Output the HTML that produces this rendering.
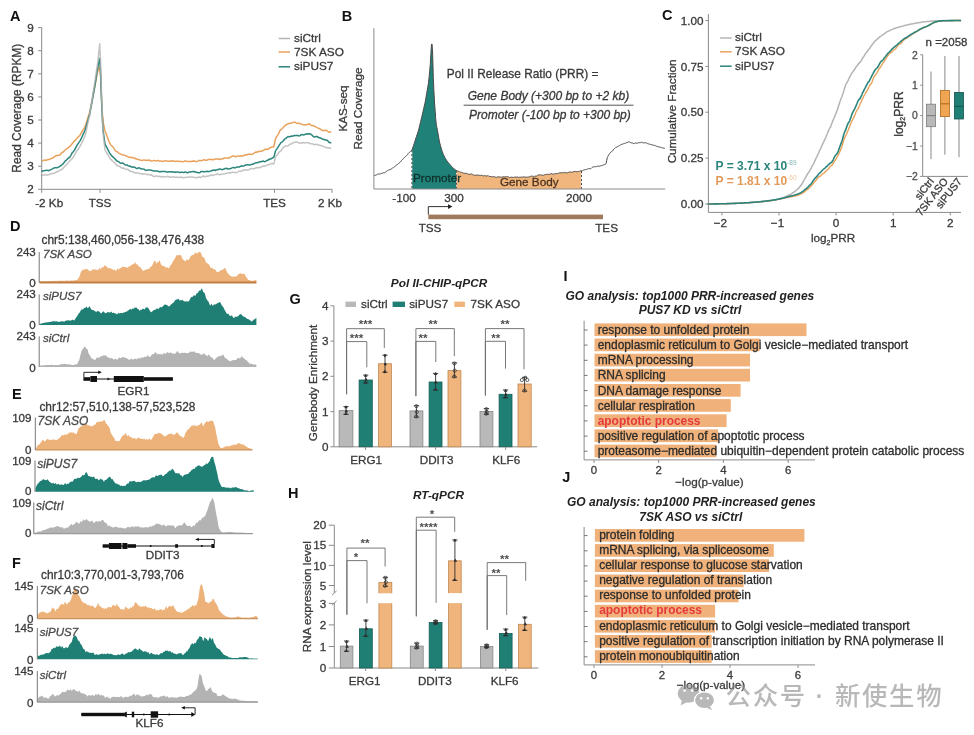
<!DOCTYPE html>
<html lang="en">
<head>
<meta charset="utf-8">
<title>Figure</title>
<style>
html,body{margin:0;padding:0;background:#fff;}
body{width:974px;height:735px;overflow:hidden;}
svg{display:block;filter:blur(0.45px);font-family:"Liberation Sans","Noto Sans CJK SC",sans-serif;}
</style>
</head>
<body>
<svg width="974" height="735" viewBox="0 0 974 735">
<rect x="0" y="0" width="974" height="735" fill="#ffffff"/>
<g id="panelA">
<text x="10" y="20.6" font-size="14.5" font-weight="bold" fill="#111">A</text>
<line x1="41.7" y1="27.6" x2="41.7" y2="189.3" stroke="#8a8a8a" stroke-width="1"/>
<line x1="41.7" y1="189.3" x2="332" y2="189.3" stroke="#8a8a8a" stroke-width="1"/>
<line x1="38.2" y1="189.3" x2="41.7" y2="189.3" stroke="#8a8a8a" stroke-width="1"/>
<text x="33.7" y="193.4" font-size="11.7" text-anchor="end" fill="#3a3a3a" stroke="#3a3a3a" stroke-width="0.3">2</text>
<line x1="38.2" y1="166.2" x2="41.7" y2="166.2" stroke="#8a8a8a" stroke-width="1"/>
<text x="33.7" y="170.3" font-size="11.7" text-anchor="end" fill="#3a3a3a" stroke="#3a3a3a" stroke-width="0.3">3</text>
<line x1="38.2" y1="143.1" x2="41.7" y2="143.1" stroke="#8a8a8a" stroke-width="1"/>
<text x="33.7" y="147.2" font-size="11.7" text-anchor="end" fill="#3a3a3a" stroke="#3a3a3a" stroke-width="0.3">4</text>
<line x1="38.2" y1="120" x2="41.7" y2="120" stroke="#8a8a8a" stroke-width="1"/>
<text x="33.7" y="124.1" font-size="11.7" text-anchor="end" fill="#3a3a3a" stroke="#3a3a3a" stroke-width="0.3">5</text>
<line x1="38.2" y1="96.9" x2="41.7" y2="96.9" stroke="#8a8a8a" stroke-width="1"/>
<text x="33.7" y="101" font-size="11.7" text-anchor="end" fill="#3a3a3a" stroke="#3a3a3a" stroke-width="0.3">6</text>
<line x1="38.2" y1="73.8" x2="41.7" y2="73.8" stroke="#8a8a8a" stroke-width="1"/>
<text x="33.7" y="77.9" font-size="11.7" text-anchor="end" fill="#3a3a3a" stroke="#3a3a3a" stroke-width="0.3">7</text>
<line x1="38.2" y1="50.7" x2="41.7" y2="50.7" stroke="#8a8a8a" stroke-width="1"/>
<text x="33.7" y="54.8" font-size="11.7" text-anchor="end" fill="#3a3a3a" stroke="#3a3a3a" stroke-width="0.3">8</text>
<line x1="38.2" y1="27.6" x2="41.7" y2="27.6" stroke="#8a8a8a" stroke-width="1"/>
<text x="33.7" y="31.7" font-size="11.7" text-anchor="end" fill="#3a3a3a" stroke="#3a3a3a" stroke-width="0.3">9</text>
<line x1="41.7" y1="189.3" x2="41.7" y2="192.8" stroke="#8a8a8a" stroke-width="1"/>
<text x="49.2" y="207.3" font-size="11.7" text-anchor="middle" fill="#3a3a3a" stroke="#3a3a3a" stroke-width="0.3">-2 Kb</text>
<line x1="100" y1="189.3" x2="100" y2="192.8" stroke="#8a8a8a" stroke-width="1"/>
<text x="100" y="207.3" font-size="11.7" text-anchor="middle" fill="#3a3a3a" stroke="#3a3a3a" stroke-width="0.3">TSS</text>
<line x1="274.5" y1="189.3" x2="274.5" y2="192.8" stroke="#8a8a8a" stroke-width="1"/>
<text x="274.5" y="207.3" font-size="11.7" text-anchor="middle" fill="#3a3a3a" stroke="#3a3a3a" stroke-width="0.3">TES</text>
<line x1="332" y1="189.3" x2="332" y2="192.8" stroke="#8a8a8a" stroke-width="1"/>
<text x="330" y="207.3" font-size="11.7" text-anchor="middle" fill="#3a3a3a" stroke="#3a3a3a" stroke-width="0.3">2 Kb</text>
<text transform="translate(20.5 108.2) rotate(-90)" font-size="11.9" text-anchor="middle" fill="#3a3a3a" stroke="#3a3a3a" stroke-width="0.3">Read Coverage (RPKM)</text>
<path d="M41.7 161.2 L42.5 160.8 L43.3 160.5 L44.1 160.1 L44.9 160.1 L45.7 160.3 L46.5 160.2 L47.3 159.9 L48.1 159.5 L48.9 159.5 L49.7 159.4 L50.5 158.9 L51.3 158.5 L52.1 158.3 L52.9 157.8 L53.7 157.4 L54.5 156.6 L55.3 156.2 L56.1 155.6 L56.9 155.6 L57.7 155.3 L58.5 155.4 L59.3 155.1 L60.1 154.9 L60.9 153.7 L61.7 152.8 L62.5 152.2 L63.3 152 L64.1 151.1 L64.9 150.3 L65.7 149.4 L66.5 148.8 L67.3 148.4 L68.1 147.8 L68.9 147.2 L69.7 146.4 L70.5 145.7 L71.3 144.8 L72.1 143.7 L72.9 142.9 L73.7 141.8 L74.5 140.9 L75.3 140.3 L76.1 139.3 L76.9 138.5 L77.7 137.4 L78.5 136.7 L79.3 136 L80.1 135.1 L80.9 133.7 L81.7 132 L82.5 130.7 L83.3 129.6 L84.1 128.4 L84.9 126.7 L85.7 124.7 L86.5 122.4 L87.3 119.8 L88.1 117 L88.9 114.4 L89.7 112.3 L90 110.5 L90.5 108.1 L91.3 104.4 L92.1 100.5 L92.9 96.6 L93.7 92.5 L94.5 88.5 L94.6 87.9 L95.3 84.1 L96.1 79.7 L96.9 75.2 L97.5 72 L97.7 71.5 L98.5 69.3 L99.3 67 L99.5 66.5 L100.1 71.7 L100.6 76 L100.9 83.5 L101.4 96 L101.7 101.4 L102.4 114 L102.5 114.9 L103.3 122.1 L103.5 123.9 L104.1 126.7 L104.9 130.4 L105 130.9 L105.7 132.7 L106.5 134.8 L107.3 137 L108.1 139.1 L108.9 141.2 L109.7 143.1 L110.5 144.6 L111.3 145.6 L112.1 146 L112.9 146.9 L113.7 148 L114.5 149.4 L115.3 150.7 L116.1 151.4 L116.9 151.8 L117.7 151.9 L118.5 152.8 L119.3 153.4 L120.1 153.8 L120.9 154.2 L121.7 154.6 L122.5 154.8 L123.3 154.9 L124.1 155.1 L124.9 155.4 L125.7 155.8 L126.5 155.9 L127.3 156.6 L128.1 156.9 L128.9 157.3 L129.7 157.3 L130.5 157.5 L131.3 157.3 L132.1 157.4 L132.9 157.7 L133.7 157.8 L134.5 158.4 L135.3 158.2 L136.1 159 L136.9 158.9 L137.7 159.6 L138.5 159.6 L139.3 159.7 L140.1 159.9 L140.9 160.3 L141.7 160.6 L142.5 160.4 L143.3 160.1 L144.1 160 L144.9 160.3 L145.7 160.3 L146.5 160.5 L147.3 160.2 L148.1 160.2 L148.9 160 L149.7 160.5 L150.5 160.6 L151.3 161.1 L152.1 160.9 L152.9 160.8 L153.7 160.6 L154.5 160.6 L155.3 160.7 L156.1 160.8 L156.9 160.9 L157.7 160.6 L158.5 160.6 L159.3 161 L160.1 161.2 L160.9 161.2 L161.7 160.9 L162.5 161.4 L163.3 161.3 L164.1 161.2 L164.9 160.8 L165.7 160.7 L166.5 160.9 L167.3 161.1 L168.1 161.4 L168.9 161.1 L169.7 161.3 L170.5 161.1 L171.3 161.3 L172.1 161 L172.9 160.8 L173.7 161.1 L174.5 161.3 L175.3 161.6 L176.1 161.3 L176.9 161.3 L177.7 161.2 L178.5 161.3 L179.3 161.4 L180.1 161.4 L180.9 161.3 L181.7 161.6 L182.5 161.7 L183.3 161.8 L184.1 161.4 L184.9 160.9 L185.7 161 L186.5 161.3 L187.3 161.5 L188.1 161.4 L188.9 161.4 L189.7 161.5 L190.5 161.6 L191.3 161.3 L192.1 161.4 L192.9 161 L193.7 161.2 L194.5 161 L195.3 161.4 L196.1 161.6 L196.9 161.7 L197.7 161.3 L198.5 160.6 L199.3 160.4 L200.1 160.4 L200.9 160.7 L201.7 160.6 L202.5 160.4 L203.3 159.9 L204.1 159.7 L204.9 160 L205.7 160.3 L206.5 160.2 L207.3 160 L208.1 159.6 L208.9 159.5 L209.7 159.4 L210.5 159.3 L211.3 159.4 L212.1 159.5 L212.9 159.9 L213.7 159.5 L214.5 159.3 L215.3 159 L216.1 158.9 L216.9 159 L217.7 159 L218.5 159.2 L219.3 159.1 L220.1 159.6 L220.9 159.2 L221.7 159.1 L222.5 158.6 L223.3 158.7 L224.1 158.1 L224.9 157.9 L225.7 158 L226.5 158.1 L227.3 158.1 L228.1 157.8 L228.9 157.9 L229.7 157.8 L230.5 157.2 L231.3 156.7 L232.1 156.2 L232.9 155.9 L233.7 155.8 L234.5 156.3 L235.3 156.9 L236.1 156.6 L236.9 156 L237.7 156.1 L238.5 156.3 L239.3 156.3 L240.1 156 L240.9 155.8 L241.7 155.9 L242.5 155.9 L243.3 155.8 L244.1 155.3 L244.9 155.1 L245.7 154.8 L246.5 155.1 L247.3 154.6 L248.1 154.6 L248.9 154.3 L249.7 154.1 L250.5 154.3 L251.3 154.4 L252.1 154.3 L252.9 153.8 L253.7 153.4 L254.5 152.7 L255.3 152.3 L256.1 152 L256.9 152.3 L257.7 151.8 L258.5 151.5 L259.3 151.2 L260.1 151.4 L260.9 151.3 L261.7 151 L262.5 150.9 L263.3 150.4 L264.1 150.1 L264.9 149.2 L265.7 149.3 L266.5 149.3 L267.3 149.5 L268.1 149 L268.9 148.6 L269.7 148.1 L270.5 147.6 L271.3 147.3 L272.1 146.9 L272.9 147 L273.7 146.8 L274.5 143.8 L275.3 139.5 L276.1 137.6 L276.9 136.3 L277.7 135.1 L278.5 133.8 L279.3 132.1 L280.1 130.5 L280.9 129.6 L281.7 129 L282.5 128.3 L283.3 127.5 L284.1 126.4 L284.9 125.8 L285.7 125 L286.5 124.5 L287.3 123.9 L288.1 124 L288.9 123.4 L289.7 123.3 L290.5 123.2 L291.3 123.2 L292.1 122.8 L292.9 122.4 L293.7 122.3 L294.5 122.2 L295.3 122.3 L296.1 122.9 L296.9 123.3 L297.7 123.4 L298.5 123.1 L299.3 123.5 L300.1 123.5 L300.9 123.8 L301.7 124.2 L302.5 124.4 L303.3 124.8 L304.1 124.8 L304.9 124.9 L305.7 124.8 L306.5 124.8 L307.3 124.6 L308.1 124.3 L308.9 123.7 L309.7 123.9 L310.5 124.7 L311.3 125.5 L312.1 125.7 L312.9 125.6 L313.7 125.6 L314.5 126.3 L315.3 126.7 L316.1 127.2 L316.9 127.6 L317.7 127.9 L318.5 128.2 L319.3 128.6 L320.1 129 L320.9 129.4 L321.7 130.1 L322.5 130.5 L323.3 130.7 L324.1 130.2 L324.9 130.4 L325.7 130.3 L326.5 130.6 L327.3 130.9 L328.1 131.7 L328.9 132.2 L329.7 132 L330.5 132 L331.3 132.1" fill="none" stroke="#e9a25c" stroke-width="1.5" stroke-linejoin="round" stroke-opacity="1"/>
<path d="M41.7 171.8 L42.5 171 L43.3 170.8 L44.1 170.7 L44.9 170.6 L45.7 170.4 L46.5 170.1 L47.3 170.4 L48.1 170.4 L48.9 170.7 L49.7 170.2 L50.5 169.9 L51.3 169.4 L52.1 169.1 L52.9 168.7 L53.7 168.2 L54.5 167.8 L55.3 167.8 L56.1 167.7 L56.9 167.8 L57.7 167.6 L58.5 167.1 L59.3 166.6 L60.1 166 L60.9 165.7 L61.7 165 L62.5 164.4 L63.3 163.5 L64.1 162.5 L64.9 161.3 L65.7 160.6 L66.5 160.1 L67.3 159.1 L68.1 158.4 L68.9 157.6 L69.7 157.4 L70.5 156 L71.3 154.6 L72.1 152.9 L72.9 152.2 L73.7 151 L74.5 150.3 L75.3 148.4 L76.1 147.3 L76.9 145.4 L77.7 144.2 L78.5 143.1 L79.3 141.9 L80.1 140.9 L80.9 139.2 L81.7 137.6 L82.5 135.7 L83.3 133.9 L84.1 132.4 L84.9 130.5 L85.7 128 L86.5 125.1 L87.3 122.2 L88.1 119.7 L88.9 116.8 L89.7 114.5 L90 112.5 L90.5 109.7 L91.3 105.6 L92.1 101.1 L92.9 96.7 L93.7 92.2 L94.5 87.8 L94.8 86 L95.3 82.8 L96.1 77.6 L96.9 72.5 L97.6 68 L97.7 67.5 L98.5 63.8 L99.3 59.9 L99.6 58.5 L100.1 64.8 L100.5 70 L100.9 82.6 L101.2 92 L101.7 104.5 L102 111.9 L102.5 121 L103 129.9 L103.3 132 L104.1 137.6 L104.9 143.3 L105 144 L105.7 145.3 L106.5 146.8 L107.3 148.4 L108.1 150 L108.9 151.6 L109.7 153.1 L110.5 154.3 L111.3 155.2 L112.1 156.2 L112.9 156.8 L113.7 157.7 L114.5 158.1 L115.3 159.4 L116.1 160.1 L116.9 161 L117.7 161.2 L118.5 161.7 L119.3 162.2 L120.1 163 L120.9 163.2 L121.7 163.2 L122.5 162.9 L123.3 163.2 L124.1 164 L124.9 164.7 L125.7 165.1 L126.5 165 L127.3 165 L128.1 165.8 L128.9 165.9 L129.7 166.4 L130.5 166.1 L131.3 167.1 L132.1 166.9 L132.9 167.2 L133.7 166.9 L134.5 167.1 L135.3 167.6 L136.1 168.2 L136.9 168.5 L137.7 168.2 L138.5 167.8 L139.3 168 L140.1 168.3 L140.9 168.8 L141.7 169 L142.5 168.9 L143.3 169.1 L144.1 169.2 L144.9 169.8 L145.7 170.3 L146.5 170.4 L147.3 170.1 L148.1 169.9 L148.9 169.9 L149.7 170 L150.5 170.1 L151.3 170.2 L152.1 170.6 L152.9 170.7 L153.7 171.1 L154.5 171 L155.3 171 L156.1 170.9 L156.9 171 L157.7 171.2 L158.5 171.6 L159.3 171.7 L160.1 171.6 L160.9 171.7 L161.7 171.4 L162.5 171.6 L163.3 171.5 L164.1 171.4 L164.9 171.5 L165.7 171.6 L166.5 172 L167.3 172 L168.1 171.9 L168.9 171.7 L169.7 171.8 L170.5 171.7 L171.3 172 L172.1 171.8 L172.9 172 L173.7 172 L174.5 172.2 L175.3 172.1 L176.1 172.2 L176.9 171.9 L177.7 172.1 L178.5 172.1 L179.3 172.5 L180.1 172.5 L180.9 172.3 L181.7 172.2 L182.5 172.2 L183.3 172.4 L184.1 172.5 L184.9 172.1 L185.7 172.1 L186.5 172.3 L187.3 172.8 L188.1 172.7 L188.9 172.1 L189.7 172.1 L190.5 172 L191.3 171.8 L192.1 171.7 L192.9 171.4 L193.7 171.7 L194.5 171.5 L195.3 172 L196.1 172.2 L196.9 172.4 L197.7 172.5 L198.5 172.8 L199.3 172.8 L200.1 172.3 L200.9 171.7 L201.7 171.5 L202.5 171.5 L203.3 171.7 L204.1 171.8 L204.9 171.8 L205.7 171.5 L206.5 171.4 L207.3 171.2 L208.1 171.4 L208.9 171.6 L209.7 171.4 L210.5 171.1 L211.3 170.9 L212.1 170.5 L212.9 170.2 L213.7 170.1 L214.5 170.2 L215.3 170.5 L216.1 170 L216.9 169.8 L217.7 169.5 L218.5 169.6 L219.3 169.1 L220.1 169.1 L220.9 169.3 L221.7 169.7 L222.5 169.5 L223.3 169.2 L224.1 169.1 L224.9 168.6 L225.7 168.4 L226.5 168.2 L227.3 168.8 L228.1 169 L228.9 169 L229.7 168.8 L230.5 168.4 L231.3 168.2 L232.1 167.9 L232.9 167.6 L233.7 167.5 L234.5 167.9 L235.3 167.7 L236.1 167.4 L236.9 166.9 L237.7 167.1 L238.5 167 L239.3 167.1 L240.1 166.5 L240.9 166.3 L241.7 165.8 L242.5 166.1 L243.3 166.2 L244.1 165.8 L244.9 165.3 L245.7 165 L246.5 165 L247.3 164.8 L248.1 164.8 L248.9 164.9 L249.7 165.1 L250.5 164.7 L251.3 164.6 L252.1 164.2 L252.9 164.3 L253.7 163.7 L254.5 163.3 L255.3 162.9 L256.1 162.8 L256.9 162.8 L257.7 162.6 L258.5 162.4 L259.3 162 L260.1 161.7 L260.9 161.8 L261.7 161.5 L262.5 161.3 L263.3 161.1 L264.1 161.5 L264.9 161.7 L265.7 161.3 L266.5 160.6 L267.3 160.3 L268.1 160 L268.9 159.5 L269.7 159 L270.5 158.9 L271.3 158.7 L272.1 158.1 L272.9 157.5 L273.7 157.6 L274.5 154.8 L275.3 151.5 L276.1 150 L276.9 148.9 L277.7 147.6 L278.5 146.5 L279.3 145 L280.1 143.9 L280.9 142.7 L281.7 142.3 L282.5 141.6 L283.3 140.8 L284.1 139.7 L284.9 138.9 L285.7 138.6 L286.5 137.8 L287.3 137.2 L288.1 136.5 L288.9 136.8 L289.7 136.8 L290.5 136.6 L291.3 136.1 L292.1 136.2 L292.9 136.1 L293.7 135.8 L294.5 135.5 L295.3 135.6 L296.1 135.7 L296.9 135.3 L297.7 135.6 L298.5 135.7 L299.3 135.9 L300.1 135.6 L300.9 134.8 L301.7 134.8 L302.5 134.5 L303.3 134.9 L304.1 134.8 L304.9 134.6 L305.7 134.1 L306.5 133.9 L307.3 133.7 L308.1 133.9 L308.9 133.7 L309.7 134 L310.5 133.9 L311.3 134.6 L312.1 135.1 L312.9 136.2 L313.7 136.7 L314.5 137 L315.3 136.7 L316.1 136.4 L316.9 136.5 L317.7 137 L318.5 137.5 L319.3 137.6 L320.1 138 L320.9 138 L321.7 138.7 L322.5 138.9 L323.3 139.4 L324.1 139.6 L324.9 139.8 L325.7 140 L326.5 140 L327.3 140.4 L328.1 141.2 L328.9 142.2 L329.7 142.7 L330.5 142.8 L331.3 142.5" fill="none" stroke="#2b857c" stroke-width="1.5" stroke-linejoin="round" stroke-opacity="1"/>
<path d="M41.7 175.5 L42.5 175.4 L43.3 175.2 L44.1 175.1 L44.9 174.7 L45.7 174.6 L46.5 175 L47.3 175 L48.1 174.9 L48.9 174.4 L49.7 174.4 L50.5 174 L51.3 173.6 L52.1 173.4 L52.9 173.4 L53.7 173.2 L54.5 173.1 L55.3 172.6 L56.1 172.3 L56.9 171.6 L57.7 171.8 L58.5 171.1 L59.3 170.8 L60.1 170 L60.9 169.9 L61.7 169.4 L62.5 169 L63.3 167.9 L64.1 167.1 L64.9 166.1 L65.7 165.5 L66.5 164.7 L67.3 163.9 L68.1 162.9 L68.9 161.9 L69.7 161 L70.5 160.3 L71.3 159.3 L72.1 158.5 L72.9 157.8 L73.7 156.5 L74.5 154.9 L75.3 153.3 L76.1 151.9 L76.9 150.8 L77.7 149.9 L78.5 148.7 L79.3 147.4 L80.1 146.1 L80.9 144.6 L81.7 143.3 L82.5 141.4 L83.3 139.8 L84.1 138 L84.9 136.1 L85.7 133 L86.5 129.5 L87.3 125.7 L88.1 121.7 L88.9 118.1 L89.7 115.2 L89.8 113 L90.5 109.3 L91.3 104.4 L92.1 99.3 L92.9 94.2 L93.7 89 L94.5 83.9 L94.5 83.9 L95.3 78.6 L96.1 73.3 L96.9 67.9 L97.7 62.7 L97.8 62 L98.5 55.2 L99.3 47.5 L99.7 43.7 L100.1 51.9 L100.6 62 L100.9 72.4 L101 76 L101.5 92 L101.7 98.3 L102.2 113.9 L102.5 120.7 L103 131.9 L103.3 134.6 L104.1 141.8 L104.9 148.9 L105 149.8 L105.7 151.1 L106.5 152.5 L107.3 153.8 L108.1 155.2 L108.9 156.6 L109.7 157.9 L110.5 159 L111.3 159.8 L112.1 160.6 L112.9 161.3 L113.7 162.1 L114.5 162.6 L115.3 163.7 L116.1 164.5 L116.9 165.4 L117.7 165.5 L118.5 166.1 L119.3 166.2 L120.1 166.7 L120.9 167.4 L121.7 168 L122.5 168.3 L123.3 168.1 L124.1 168.3 L124.9 169 L125.7 169.2 L126.5 169.2 L127.3 169.2 L128.1 169.6 L128.9 170.3 L129.7 171 L130.5 171.3 L131.3 171.6 L132.1 171.4 L132.9 171.7 L133.7 172.2 L134.5 172.8 L135.3 172.9 L136.1 172.7 L136.9 173.1 L137.7 173.1 L138.5 173.2 L139.3 173.2 L140.1 173.7 L140.9 173.8 L141.7 173.9 L142.5 173.8 L143.3 174 L144.1 174 L144.9 174 L145.7 174.1 L146.5 174.4 L147.3 174.5 L148.1 174.6 L148.9 174.7 L149.7 174.8 L150.5 175 L151.3 174.7 L152.1 175.3 L152.9 175.9 L153.7 176.6 L154.5 176.4 L155.3 176.2 L156.1 176 L156.9 176.1 L157.7 176.4 L158.5 176.2 L159.3 176.6 L160.1 176.3 L160.9 176.9 L161.7 176.8 L162.5 176.7 L163.3 176.5 L164.1 176.7 L164.9 176.9 L165.7 176.9 L166.5 176.7 L167.3 176.3 L168.1 176.5 L168.9 176.7 L169.7 177.2 L170.5 177.1 L171.3 177.2 L172.1 177.1 L172.9 177 L173.7 176.8 L174.5 177.2 L175.3 177.1 L176.1 177.4 L176.9 177.1 L177.7 177.2 L178.5 177.2 L179.3 177.4 L180.1 177.4 L180.9 177 L181.7 177.2 L182.5 177.7 L183.3 177.7 L184.1 177.5 L184.9 177.4 L185.7 177.4 L186.5 177.3 L187.3 177.2 L188.1 177.2 L188.9 177 L189.7 177 L190.5 177.1 L191.3 177 L192.1 176.9 L192.9 177.1 L193.7 177.2 L194.5 177.5 L195.3 177.5 L196.1 177.5 L196.9 177.8 L197.7 177.4 L198.5 177.4 L199.3 176.8 L200.1 177.3 L200.9 177.4 L201.7 177 L202.5 176.3 L203.3 176 L204.1 176.5 L204.9 176.7 L205.7 176.5 L206.5 176.3 L207.3 176.2 L208.1 176.1 L208.9 176.1 L209.7 175.4 L210.5 175.4 L211.3 174.9 L212.1 175.4 L212.9 175.2 L213.7 175.1 L214.5 174.9 L215.3 174.6 L216.1 174.5 L216.9 174 L217.7 174.1 L218.5 174.3 L219.3 174.7 L220.1 174.6 L220.9 174.6 L221.7 174.2 L222.5 174.1 L223.3 173.9 L224.1 174 L224.9 173.8 L225.7 173.5 L226.5 173.2 L227.3 173.1 L228.1 172.9 L228.9 173 L229.7 172.8 L230.5 172.9 L231.3 172.5 L232.1 172.5 L232.9 172.3 L233.7 172.3 L234.5 172.5 L235.3 172.4 L236.1 172.7 L236.9 172.4 L237.7 172.1 L238.5 171.5 L239.3 171.3 L240.1 171.3 L240.9 171.3 L241.7 171 L242.5 170.5 L243.3 170.3 L244.1 169.8 L244.9 170.1 L245.7 169.9 L246.5 170.1 L247.3 169.9 L248.1 170 L248.9 169.7 L249.7 169.2 L250.5 168.8 L251.3 168.5 L252.1 168.4 L252.9 168.7 L253.7 168.7 L254.5 168.8 L255.3 168 L256.1 168 L256.9 167.6 L257.7 167.7 L258.5 167.5 L259.3 167.7 L260.1 167.5 L260.9 167.2 L261.7 166.5 L262.5 166.3 L263.3 166 L264.1 166.2 L264.9 165.8 L265.7 166 L266.5 165.2 L267.3 165 L268.1 164.6 L268.9 164.7 L269.7 164.4 L270.5 163.9 L271.3 163.5 L272.1 163.5 L272.9 163.8 L273.7 164.1 L274.5 161.4 L275.3 157.5 L276.1 155.9 L276.9 155.2 L277.7 154.1 L278.5 153 L279.3 152 L280.1 151.5 L280.9 150.8 L281.7 149.6 L282.5 148.4 L283.3 147.6 L284.1 146.7 L284.9 146.5 L285.7 146 L286.5 146.1 L287.3 145.9 L288.1 145.8 L288.9 145.1 L289.7 144.5 L290.5 144.1 L291.3 143.9 L292.1 143.3 L292.9 142.8 L293.7 142.4 L294.5 142.6 L295.3 142.1 L296.1 142.2 L296.9 141.9 L297.7 142.4 L298.5 142.7 L299.3 142.9 L300.1 143 L300.9 143.2 L301.7 142.8 L302.5 142.9 L303.3 142.4 L304.1 142.9 L304.9 142.9 L305.7 142.8 L306.5 142.6 L307.3 142.6 L308.1 142.9 L308.9 142.8 L309.7 143.2 L310.5 143.8 L311.3 143.8 L312.1 143.7 L312.9 143.9 L313.7 144.5 L314.5 144.7 L315.3 144.4 L316.1 144.3 L316.9 144.5 L317.7 144.6 L318.5 145.1 L319.3 145.3 L320.1 145.6 L320.9 145.5 L321.7 145.8 L322.5 145.9 L323.3 146.3 L324.1 146.7 L324.9 147.2 L325.7 147.5 L326.5 147.6 L327.3 147.7 L328.1 147.8 L328.9 147.8 L329.7 148.2 L330.5 148.2 L331.3 148.7" fill="none" stroke="#b4b4b4" stroke-width="1.5" stroke-linejoin="round" stroke-opacity="0.8"/>
<line x1="278.6" y1="38.5" x2="290" y2="38.5" stroke="#b4b4b4" stroke-width="1.5"/>
<text x="294" y="42.1" font-size="11.8" fill="#3a3a3a" stroke="#3a3a3a" stroke-width="0.3">siCtrl</text>
<line x1="278.6" y1="52" x2="290" y2="52" stroke="#e9a25c" stroke-width="1.5"/>
<text x="294" y="55.6" font-size="11.8" fill="#3a3a3a" stroke="#3a3a3a" stroke-width="0.3">7SK ASO</text>
<line x1="278.6" y1="66.8" x2="290" y2="66.8" stroke="#2b857c" stroke-width="1.5"/>
<text x="294" y="70.4" font-size="11.8" fill="#3a3a3a" stroke="#3a3a3a" stroke-width="0.3">siPUS7</text>
</g>
<g id="panelB">
<text x="341.8" y="20.6" font-size="14.5" font-weight="bold" fill="#111">B</text>
<path d="M412.3 149.1 L412.9 147.3 L413.5 145.5 L414.1 143.7 L414.7 141.9 L415.3 140.1 L415.9 138.2 L416.5 136.4 L417.1 134.6 L417.7 132.7 L418.3 130.9 L418.9 128.8 L419.5 126.3 L420.1 123.8 L420.7 121.4 L421.3 118.9 L421.9 116.4 L422.5 113.8 L423.1 111.2 L423.7 108.6 L424.3 105.9 L424.9 103.3 L425.5 100.3 L426.1 96.8 L426.7 93.3 L427.3 89.8 L427.9 86.3 L428.5 82.8 L429.1 77.3 L429.7 70.8 L430.3 64.3 L430.9 53.8 L431.5 44.2 L432.1 44.2 L432.7 55.4 L433.3 77.5 L433.9 90.9 L434.5 102 L435.1 110.3 L435.7 118.5 L436.3 124.9 L436.9 127.7 L437.5 130.5 L438.1 134 L438.7 137.4 L439.3 140.9 L439.9 143.4 L440.5 145.6 L441.1 147.8 L441.7 149.9 L442.3 151.7 L442.9 153.2 L443.5 154.6 L444.1 156 L444.7 157.3 L445.3 158.3 L445.9 159.2 L446.5 160.2 L447.1 161.1 L447.7 161.9 L448.3 162.6 L448.9 163.3 L449.5 164 L450.1 164.7 L450.7 165.4 L451.3 166.1 L451.9 166.8 L452.5 167.5 L453.1 168 L453.7 168.5 L454.3 168.9 L454.9 169.4 L455.5 169.9 L456.1 170.4 L456.1 189 L412.3 189 Z" fill="#1f8177"/>
<path d="M456.7 170.7 L457.3 170.9 L457.9 171.1 L458.5 171.3 L459.1 171.4 L459.7 172 L460.3 172.1 L460.9 172.5 L461.5 172.3 L462.1 172.6 L462.7 172.7 L463.3 173 L463.9 173.3 L464.5 173.4 L465.1 173.3 L465.7 173.2 L466.3 173.3 L466.9 173.6 L467.5 173.9 L468.1 174 L468.7 174.2 L469.3 174.3 L469.9 174.4 L470.5 174.2 L471.1 174 L471.7 173.9 L472.3 174.4 L472.9 174.5 L473.5 175 L474.1 174.9 L474.7 175.3 L475.3 175.3 L475.9 175.3 L476.5 175.1 L477.1 175 L477.7 175.1 L478.3 175.1 L478.9 175.2 L479.5 175.4 L480.1 175.3 L480.7 175.4 L481.3 175.2 L481.9 175.5 L482.5 175.6 L483.1 175.8 L483.7 175.9 L484.3 175.6 L484.9 175.8 L485.5 175.7 L486.1 176.1 L486.7 176 L487.3 175.8 L487.9 175.7 L488.5 175.8 L489.1 176.4 L489.7 176.5 L490.3 176.6 L490.9 176.3 L491.5 176.5 L492.1 176.7 L492.7 177 L493.3 176.8 L493.9 176.5 L494.5 176.6 L495.1 177 L495.7 177.3 L496.3 177.4 L496.9 177.1 L497.5 176.9 L498.1 177 L498.7 176.8 L499.3 176.9 L499.9 176.8 L500.5 177.1 L501.1 177.2 L501.7 177.2 L502.3 177 L502.9 176.8 L503.5 176.8 L504.1 176.8 L504.7 176.9 L505.3 176.7 L505.9 176.8 L506.5 176.7 L507.1 176.7 L507.7 176.6 L508.3 176.9 L508.9 177.1 L509.5 177.6 L510.1 177.4 L510.7 177.3 L511.3 177.1 L511.9 177.3 L512.5 177.3 L513.1 177.4 L513.7 177.4 L514.3 177.3 L514.9 176.9 L515.5 177 L516.1 177.2 L516.7 177.2 L517.3 177 L517.9 177 L518.5 177.3 L519.1 177.3 L519.7 177.3 L520.3 177.3 L520.9 177.2 L521.5 177 L522.1 177 L522.7 177.2 L523.3 176.9 L523.9 176.8 L524.5 177 L525.1 177.4 L525.7 177.1 L526.3 177.3 L526.9 176.8 L527.5 177.2 L528.1 176.9 L528.7 177.1 L529.3 176.9 L529.9 176.5 L530.5 176.4 L531.1 176.2 L531.7 176 L532.3 176.2 L532.9 176.3 L533.5 176.7 L534.1 176.2 L534.7 176.2 L535.3 176.1 L535.9 176.3 L536.5 176.1 L537.1 175.6 L537.7 175.3 L538.3 175 L538.9 174.8 L539.5 174.8 L540.1 174.9 L540.7 175 L541.3 174.9 L541.9 175.2 L542.5 175.3 L543.1 175.3 L543.7 175.1 L544.3 174.8 L544.9 174.7 L545.5 174.6 L546.1 174.5 L546.7 174.4 L547.3 174.1 L547.9 174.2 L548.5 174.4 L549.1 174.4 L549.7 174.3 L550.3 173.9 L550.9 173.8 L551.5 173.6 L552.1 173.8 L552.7 174.2 L553.3 174.4 L553.9 174 L554.5 173.7 L555.1 173.6 L555.7 173.7 L556.3 173.6 L556.9 173.6 L557.5 173.5 L558.1 173.4 L558.7 173.2 L559.3 172.9 L559.9 172.8 L560.5 172.7 L561.1 172.8 L561.7 172.7 L562.3 172.8 L562.9 172.8 L563.5 172.7 L564.1 172.5 L564.7 172.3 L565.3 172.5 L565.9 172.8 L566.5 172.9 L567.1 172.7 L567.7 172.7 L568.3 172.3 L568.9 172.5 L569.5 172.1 L570.1 171.9 L570.7 172 L571.3 172.2 L571.9 172.4 L572.5 172 L573.1 171.7 L573.7 171.8 L574.3 171.5 L574.9 171.4 L575.5 171.4 L576.1 171.6 L576.7 171.7 L577.3 171.6 L577.9 171.8 L578.5 171.5 L579.1 171.5 L579.7 170.9 L580.3 170.8 L580.9 170.8 L580.9 189 L456.7 189 Z" fill="#f1b67d"/>
<path d="M373.9 175.5 L374.5 175.4 L375.1 175.2 L375.7 175.3 L376.3 175 L376.9 174.6 L377.5 174.2 L378.1 173.9 L378.7 174 L379.3 174.1 L379.9 174.2 L380.5 173.8 L381.1 173.4 L381.7 173.3 L382.3 173.2 L382.9 173.1 L383.5 172.8 L384.1 172.8 L384.7 172.7 L385.3 172.3 L385.9 171.8 L386.5 171.4 L387.1 171 L387.7 170.6 L388.3 170.2 L388.9 169.9 L389.5 169.7 L390.1 169.4 L390.7 169.5 L391.3 169 L391.9 168.6 L392.5 167.9 L393.1 167.7 L393.7 167.5 L394.3 167.1 L394.9 166.5 L395.5 165.7 L396.1 165.2 L396.7 164.8 L397.3 164.6 L397.9 164.1 L398.5 163.5 L399.1 163 L399.7 162.7 L400.3 162.1 L400.9 161.4 L401.5 160.5 L402.1 159.8 L402.7 159.4 L403.3 158.7 L403.9 158.2 L404.5 157.4 L405.1 157 L405.7 156.3 L406.3 155.7 L406.9 155.1 L407.5 154.6 L408.1 153.7 L408.7 153.1 L409.3 152.4 L409.9 151.9 L410.5 151.4 L411.1 150.9 L411.7 150.5 L412.3 149.1 L412.9 147.3 L413.5 145.5 L414.1 143.7 L414.7 141.9 L415.3 140.1 L415.9 138.2 L416.5 136.4 L417.1 134.6 L417.7 132.7 L418.3 130.9 L418.9 128.8 L419.5 126.3 L420.1 123.8 L420.7 121.4 L421.3 118.9 L421.9 116.4 L422.5 113.8 L423.1 111.2 L423.7 108.6 L424.3 105.9 L424.9 103.3 L425.5 100.3 L426.1 96.8 L426.7 93.3 L427.3 89.8 L427.9 86.3 L428.5 82.8 L429.1 77.3 L429.7 70.8 L430.3 64.3 L430.9 53.8 L431.5 44.2 L432.1 44.2 L432.7 55.4 L433.3 77.5 L433.9 90.9 L434.5 102 L435.1 110.3 L435.7 118.5 L436.3 124.9 L436.9 127.7 L437.5 130.5 L438.1 134 L438.7 137.4 L439.3 140.9 L439.9 143.4 L440.5 145.6 L441.1 147.8 L441.7 149.9 L442.3 151.7 L442.9 153.2 L443.5 154.6 L444.1 156 L444.7 157.3 L445.3 158.3 L445.9 159.2 L446.5 160.2 L447.1 161.1 L447.7 161.9 L448.3 162.6 L448.9 163.3 L449.5 164 L450.1 164.7 L450.7 165.4 L451.3 166.1 L451.9 166.8 L452.5 167.5 L453.1 168 L453.7 168.5 L454.3 168.9 L454.9 169.4 L455.5 169.9 L456.1 170.4 L456.7 170.7 L457.3 170.9 L457.9 171.1 L458.5 171.3 L459.1 171.4 L459.7 172 L460.3 172.1 L460.9 172.5 L461.5 172.3 L462.1 172.6 L462.7 172.7 L463.3 173 L463.9 173.3 L464.5 173.4 L465.1 173.3 L465.7 173.2 L466.3 173.3 L466.9 173.6 L467.5 173.9 L468.1 174 L468.7 174.2 L469.3 174.3 L469.9 174.4 L470.5 174.2 L471.1 174 L471.7 173.9 L472.3 174.4 L472.9 174.5 L473.5 175 L474.1 174.9 L474.7 175.3 L475.3 175.3 L475.9 175.3 L476.5 175.1 L477.1 175 L477.7 175.1 L478.3 175.1 L478.9 175.2 L479.5 175.4 L480.1 175.3 L480.7 175.4 L481.3 175.2 L481.9 175.5 L482.5 175.6 L483.1 175.8 L483.7 175.9 L484.3 175.6 L484.9 175.8 L485.5 175.7 L486.1 176.1 L486.7 176 L487.3 175.8 L487.9 175.7 L488.5 175.8 L489.1 176.4 L489.7 176.5 L490.3 176.6 L490.9 176.3 L491.5 176.5 L492.1 176.7 L492.7 177 L493.3 176.8 L493.9 176.5 L494.5 176.6 L495.1 177 L495.7 177.3 L496.3 177.4 L496.9 177.1 L497.5 176.9 L498.1 177 L498.7 176.8 L499.3 176.9 L499.9 176.8 L500.5 177.1 L501.1 177.2 L501.7 177.2 L502.3 177 L502.9 176.8 L503.5 176.8 L504.1 176.8 L504.7 176.9 L505.3 176.7 L505.9 176.8 L506.5 176.7 L507.1 176.7 L507.7 176.6 L508.3 176.9 L508.9 177.1 L509.5 177.6 L510.1 177.4 L510.7 177.3 L511.3 177.1 L511.9 177.3 L512.5 177.3 L513.1 177.4 L513.7 177.4 L514.3 177.3 L514.9 176.9 L515.5 177 L516.1 177.2 L516.7 177.2 L517.3 177 L517.9 177 L518.5 177.3 L519.1 177.3 L519.7 177.3 L520.3 177.3 L520.9 177.2 L521.5 177 L522.1 177 L522.7 177.2 L523.3 176.9 L523.9 176.8 L524.5 177 L525.1 177.4 L525.7 177.1 L526.3 177.3 L526.9 176.8 L527.5 177.2 L528.1 176.9 L528.7 177.1 L529.3 176.9 L529.9 176.5 L530.5 176.4 L531.1 176.2 L531.7 176 L532.3 176.2 L532.9 176.3 L533.5 176.7 L534.1 176.2 L534.7 176.2 L535.3 176.1 L535.9 176.3 L536.5 176.1 L537.1 175.6 L537.7 175.3 L538.3 175 L538.9 174.8 L539.5 174.8 L540.1 174.9 L540.7 175 L541.3 174.9 L541.9 175.2 L542.5 175.3 L543.1 175.3 L543.7 175.1 L544.3 174.8 L544.9 174.7 L545.5 174.6 L546.1 174.5 L546.7 174.4 L547.3 174.1 L547.9 174.2 L548.5 174.4 L549.1 174.4 L549.7 174.3 L550.3 173.9 L550.9 173.8 L551.5 173.6 L552.1 173.8 L552.7 174.2 L553.3 174.4 L553.9 174 L554.5 173.7 L555.1 173.6 L555.7 173.7 L556.3 173.6 L556.9 173.6 L557.5 173.5 L558.1 173.4 L558.7 173.2 L559.3 172.9 L559.9 172.8 L560.5 172.7 L561.1 172.8 L561.7 172.7 L562.3 172.8 L562.9 172.8 L563.5 172.7 L564.1 172.5 L564.7 172.3 L565.3 172.5 L565.9 172.8 L566.5 172.9 L567.1 172.7 L567.7 172.7 L568.3 172.3 L568.9 172.5 L569.5 172.1 L570.1 171.9 L570.7 172 L571.3 172.2 L571.9 172.4 L572.5 172 L573.1 171.7 L573.7 171.8 L574.3 171.5 L574.9 171.4 L575.5 171.4 L576.1 171.6 L576.7 171.7 L577.3 171.6 L577.9 171.8 L578.5 171.5 L579.1 171.5 L579.7 170.9 L580.3 170.8 L580.9 170.8 L581.5 170.9 L582.1 170.9 L582.7 170.6 L583.3 170.3 L583.9 170 L584.5 169.8 L585.1 169.7 L585.7 169.6 L586.3 169.6 L586.9 169.4 L587.5 169 L588.1 168.7 L588.7 168.6 L589.3 168.6 L589.9 168.8 L590.5 168.7 L591.1 168.4 L591.7 167.8 L592.3 167.4 L592.9 167.1 L593.5 166.9 L594.1 166.8 L594.7 166.7 L595.3 166.8 L595.9 166.6 L596.5 166.5 L597.1 166.1 L597.7 166.2 L598.3 166.2 L598.9 166.4 L599.5 166.2 L600.1 166.1 L600.7 165.7 L601.3 165.6 L601.9 165.6 L602.5 165.3 L603.1 165.2 L603.7 164.8 L604.3 164.7 L604.9 164.4 L605.5 164.1 L606.1 163.7 L606.7 160.5 L607.3 157.5 L607.9 156.4 L608.5 155.2 L609.1 154.3 L609.7 153.4 L610.3 152.8 L610.9 152 L611.5 151.6 L612.1 151.1 L612.7 150.8 L613.3 149.9 L613.9 149.1 L614.5 148.5 L615.1 148.1 L615.7 147.5 L616.3 147.2 L616.9 147.2 L617.5 146.8 L618.1 146.5 L618.7 145.8 L619.3 145.7 L619.9 145.4 L620.5 144.9 L621.1 144.5 L621.7 144.4 L622.3 144.3 L622.9 144 L623.5 143.7 L624.1 143.4 L624.7 143.5 L625.3 143.2 L625.9 143.2 L626.5 142.6 L627.1 142.6 L627.7 142.3 L628.3 141.9 L628.9 142 L629.5 142 L630.1 142.4 L630.7 142.7 L631.3 142.8 L631.9 142.9 L632.5 143 L633.1 143.3 L633.7 143.7 L634.3 143.5 L634.9 143.3 L635.5 143 L636.1 143.1 L636.7 143.2 L637.3 143.2 L637.9 142.9 L638.5 142.7 L639.1 142.6 L639.7 142.8 L640.3 142.7 L640.9 142.6 L641.5 142.2 L642.1 142.4 L642.7 142.7 L643.3 142.9 L643.9 142.8 L644.5 142.8 L645.1 142.7 L645.7 142.7 L646.3 143 L646.9 143.2 L647.5 143.6 L648.1 143.7 L648.7 144 L649.3 144 L649.9 144.3 L650.5 144.5 L651.1 144.7 L651.7 144.7 L652.3 144.9 L652.9 145.1 L653.5 145.2 L654.1 145.4 L654.7 145.4 L655.3 145.6 L655.9 145.9 L656.5 146.3 L657.1 146.3 L657.7 146.5 L658.3 146.8 L658.9 147.1 L659.5 147.1 L660.1 147.3 L660.7 147.3 L661.3 147.5 L661.9 147.7 L662.5 147.9 L663.1 148 L663.7 148.1 L664.3 148.2 L664.9 148.4" fill="none" stroke="#4a4a4a" stroke-width="1" stroke-linejoin="round"/>
<line x1="411.9" y1="150" x2="411.9" y2="189" stroke="#3a3a3a" stroke-width="0.9" stroke-dasharray="2.2 1.8"/>
<line x1="456.4" y1="170.6" x2="456.4" y2="189" stroke="#3a3a3a" stroke-width="0.9" stroke-dasharray="2.2 1.8"/>
<line x1="581.5" y1="171" x2="581.5" y2="189" stroke="#3a3a3a" stroke-width="0.9" stroke-dasharray="2.2 1.8"/>
<line x1="373.9" y1="28.2" x2="373.9" y2="189" stroke="#8a8a8a" stroke-width="1"/>
<line x1="373.9" y1="189" x2="665.3" y2="189" stroke="#8a8a8a" stroke-width="1"/>
<text transform="translate(347 108.5) rotate(-90)" font-size="11.7" text-anchor="middle" fill="#3a3a3a" stroke="#3a3a3a" stroke-width="0.3">KAS-seq</text>
<text transform="translate(362.2 108.5) rotate(-90)" font-size="11.7" text-anchor="middle" fill="#3a3a3a" stroke="#3a3a3a" stroke-width="0.3">Read Coverage</text>
<text x="404" y="202.4" font-size="11.7" text-anchor="middle" fill="#3a3a3a" stroke="#3a3a3a" stroke-width="0.3">-100</text>
<text x="454" y="202.4" font-size="11.7" text-anchor="middle" fill="#3a3a3a" stroke="#3a3a3a" stroke-width="0.3">300</text>
<text x="579" y="202.4" font-size="11.7" text-anchor="middle" fill="#3a3a3a" stroke="#3a3a3a" stroke-width="0.3">2000</text>
<text x="413" y="181.9" font-size="11.7" fill="#10302c" stroke="#10302c" stroke-width="0.3">Promoter</text>
<text x="500" y="185.6" font-size="11.7" fill="#4a3320" stroke="#4a3320" stroke-width="0.3">Gene Body</text>
<text x="446.8" y="78.1" font-size="11.9" fill="#3a3a3a" stroke="#3a3a3a" stroke-width="0.3">Pol II Release Ratio (PRR) =</text>
<text x="467.7" y="99.7" font-size="12" font-style="italic" fill="#3a3a3a" stroke="#3a3a3a" stroke-width="0.3">Gene Body (+300 bp to +2 kb)</text>
<line x1="463.6" y1="105.2" x2="633.5" y2="105.2" stroke="#555" stroke-width="1"/>
<text x="469" y="118.6" font-size="12" font-style="italic" fill="#3a3a3a" stroke="#3a3a3a" stroke-width="0.3">Promoter (-100 bp to +300 bp)</text>
<rect x="428.3" y="214.6" width="174.7" height="4.6" fill="#a07a5c"/>
<path d="M428.3 214.6 V206.6 H449" fill="none" stroke="#333" stroke-width="1"/>
<path d="M448 204.3 L452.5 206.6 L448 208.9 Z" fill="#222"/>
<text x="430" y="232" font-size="11.7" text-anchor="middle" fill="#3a3a3a" stroke="#3a3a3a" stroke-width="0.3">TSS</text>
<text x="606.6" y="232" font-size="11.7" text-anchor="middle" fill="#3a3a3a" stroke="#3a3a3a" stroke-width="0.3">TES</text>
</g>
<g id="panelC">
<text x="662" y="20.4" font-size="14.5" font-weight="bold" fill="#111">C</text>
<line x1="708.4" y1="14" x2="708.4" y2="212.4" stroke="#8a8a8a" stroke-width="1"/>
<line x1="708.4" y1="212.4" x2="961" y2="212.4" stroke="#8a8a8a" stroke-width="1"/>
<line x1="705.4" y1="204" x2="708.4" y2="204" stroke="#8a8a8a" stroke-width="1"/>
<text x="703.4" y="208.1" font-size="11.7" text-anchor="end" fill="#3a3a3a" stroke="#3a3a3a" stroke-width="0.3">0.00</text>
<line x1="705.4" y1="158.1" x2="708.4" y2="158.1" stroke="#8a8a8a" stroke-width="1"/>
<text x="703.4" y="162.2" font-size="11.7" text-anchor="end" fill="#3a3a3a" stroke="#3a3a3a" stroke-width="0.3">0.25</text>
<line x1="705.4" y1="112.2" x2="708.4" y2="112.2" stroke="#8a8a8a" stroke-width="1"/>
<text x="703.4" y="116.3" font-size="11.7" text-anchor="end" fill="#3a3a3a" stroke="#3a3a3a" stroke-width="0.3">0.50</text>
<line x1="705.4" y1="66.4" x2="708.4" y2="66.4" stroke="#8a8a8a" stroke-width="1"/>
<text x="703.4" y="70.5" font-size="11.7" text-anchor="end" fill="#3a3a3a" stroke="#3a3a3a" stroke-width="0.3">0.75</text>
<line x1="705.4" y1="20.5" x2="708.4" y2="20.5" stroke="#8a8a8a" stroke-width="1"/>
<text x="703.4" y="24.6" font-size="11.7" text-anchor="end" fill="#3a3a3a" stroke="#3a3a3a" stroke-width="0.3">1.00</text>
<line x1="721.9" y1="212.4" x2="721.9" y2="215.4" stroke="#8a8a8a" stroke-width="1"/>
<text x="720.4" y="226.8" font-size="11.7" text-anchor="middle" fill="#3a3a3a" stroke="#3a3a3a" stroke-width="0.3">−2</text>
<line x1="779" y1="212.4" x2="779" y2="215.4" stroke="#8a8a8a" stroke-width="1"/>
<text x="777.5" y="226.8" font-size="11.7" text-anchor="middle" fill="#3a3a3a" stroke="#3a3a3a" stroke-width="0.3">−1</text>
<line x1="836.1" y1="212.4" x2="836.1" y2="215.4" stroke="#8a8a8a" stroke-width="1"/>
<text x="836.1" y="226.8" font-size="11.7" text-anchor="middle" fill="#3a3a3a" stroke="#3a3a3a" stroke-width="0.3">0</text>
<line x1="893.2" y1="212.4" x2="893.2" y2="215.4" stroke="#8a8a8a" stroke-width="1"/>
<text x="893.2" y="226.8" font-size="11.7" text-anchor="middle" fill="#3a3a3a" stroke="#3a3a3a" stroke-width="0.3">1</text>
<line x1="950.3" y1="212.4" x2="950.3" y2="215.4" stroke="#8a8a8a" stroke-width="1"/>
<text x="950.3" y="226.8" font-size="11.7" text-anchor="middle" fill="#3a3a3a" stroke="#3a3a3a" stroke-width="0.3">2</text>
<text transform="translate(676.4 111.4) rotate(-90)" font-size="11.7" text-anchor="middle" fill="#3a3a3a" stroke="#3a3a3a" stroke-width="0.3">Cumulative Fraction</text>
<text x="811" y="242.2" font-size="11.7" fill="#3a3a3a" stroke="#3a3a3a" stroke-width="0.3">log<tspan font-size="7" dy="2.5">2</tspan><tspan dy="-2.5">PRR</tspan></text>
<path d="M707.6 204 L708.2 204 L708.8 204 L709.4 204 L710 204 L710.7 204 L711.3 204 L711.9 204 L712.5 204 L713.1 204 L713.7 203.9 L714.3 203.9 L714.9 203.9 L715.5 203.9 L716.1 203.9 L716.7 203.9 L717.3 203.9 L717.9 203.9 L718.5 203.9 L719.1 203.8 L719.7 203.8 L720.3 203.8 L720.9 203.8 L721.5 203.8 L722.1 203.8 L722.8 203.8 L723.4 203.7 L724 203.7 L724.6 203.7 L725.2 203.7 L725.8 203.7 L726.4 203.7 L727 203.6 L727.6 203.6 L728.2 203.6 L728.8 203.6 L729.4 203.6 L730 203.6 L730.6 203.5 L731.2 203.5 L731.8 203.5 L732.4 203.5 L733 203.5 L733.6 203.4 L734.2 203.4 L734.9 203.4 L735.5 203.4 L736.1 203.4 L736.7 203.3 L737.3 203.3 L737.9 203.3 L738.5 203.2 L739.1 203.2 L739.7 203.2 L740.3 203.2 L740.9 203.1 L741.5 203.1 L742.1 203.1 L742.7 203 L743.3 203 L743.9 202.9 L744.5 202.9 L745.1 202.9 L745.7 202.9 L746.3 202.8 L747 202.8 L747.6 202.7 L748.2 202.7 L748.8 202.7 L749.4 202.6 L750 202.6 L750.6 202.5 L751.2 202.5 L751.8 202.5 L752.4 202.4 L753 202.4 L753.6 202.4 L754.2 202.3 L754.8 202.3 L755.4 202.2 L756 202.1 L756.6 202.1 L757.2 202.1 L757.8 202 L758.5 202 L759.1 201.9 L759.7 201.9 L760.3 201.8 L760.9 201.7 L761.5 201.7 L762.1 201.6 L762.7 201.5 L763.3 201.5 L763.9 201.4 L764.5 201.3 L765.1 201.3 L765.7 201.2 L766.3 201.2 L766.9 201.1 L767.5 201.1 L768.1 201 L768.7 200.9 L769.3 200.9 L769.9 200.8 L770.6 200.7 L771.2 200.6 L771.8 200.5 L772.4 200.4 L773 200.3 L773.6 200.2 L774.2 200.1 L774.8 200 L775.4 199.9 L776 199.8 L776.6 199.6 L777.2 199.5 L777.8 199.4 L778.4 199.2 L779 199.1 L779.6 198.9 L780.2 198.7 L780.8 198.5 L781.4 198.3 L782 198.1 L782.7 197.9 L783.3 197.8 L783.9 197.4 L784.5 197.1 L785.1 196.8 L785.7 196.6 L786.3 196.3 L786.9 196.1 L787.5 195.7 L788.1 195.3 L788.7 195.1 L789.3 194.8 L789.9 194.6 L790.5 194.4 L791.1 194 L791.7 193.7 L792.3 193.1 L792.9 192.6 L793.5 192.3 L794.1 191.8 L794.8 191.4 L795.4 190.9 L796 190.4 L796.6 190 L797.2 189.5 L797.8 189 L798.4 188.4 L799 187.7 L799.6 187.1 L800.2 186.3 L800.8 185.5 L801.4 184.8 L802 183.8 L802.6 182.8 L803.2 181.6 L803.8 180.4 L804.4 179.6 L805 178.5 L805.6 177.5 L806.3 176.4 L806.9 175 L807.5 174 L808.1 173.3 L808.7 172.1 L809.3 171.4 L809.9 170.6 L810.5 169.1 L811.1 168.3 L811.7 167 L812.3 165.7 L812.9 164.9 L813.5 163.8 L814.1 162.6 L814.7 161 L815.3 160 L815.9 158.4 L816.5 157.3 L817.1 156.4 L817.7 154.5 L818.4 153.4 L819 152.3 L819.6 150.4 L820.2 149.5 L820.8 148.2 L821.4 146.6 L822 145.4 L822.6 144.1 L823.2 142.6 L823.8 141.6 L824.4 140.4 L825 139.2 L825.6 138.2 L826.2 136.2 L826.8 135.1 L827.4 133.5 L828 131.5 L828.6 130.5 L829.2 129.4 L829.8 127.8 L830.5 127.2 L831.1 125.5 L831.7 123.5 L832.3 122.3 L832.9 120.6 L833.5 119.3 L834.1 118 L834.7 116.6 L835.3 114.6 L835.9 113.6 L836.5 112.1 L837.1 110.3 L837.7 108.9 L838.3 106.6 L838.9 105.1 L839.5 103 L840.1 101.2 L840.7 99.6 L841.3 97.9 L842 96.5 L842.6 94.6 L843.2 92.9 L843.8 90.9 L844.4 88.7 L845 87 L845.6 85 L846.2 83.7 L846.8 83 L847.4 81.7 L848 80.9 L848.6 79.3 L849.2 78 L849.8 76.8 L850.4 75.6 L851 74.7 L851.6 73.6 L852.2 72.7 L852.8 71.9 L853.4 71 L854.1 70 L854.7 69.3 L855.3 68.1 L855.9 67.3 L856.5 66.4 L857.1 65.5 L857.7 65.1 L858.3 63.9 L858.9 63.4 L859.5 62.8 L860.1 62.1 L860.7 61.7 L861.3 60.4 L861.9 59.3 L862.5 58.1 L863.1 57.3 L863.7 56.7 L864.3 55.7 L864.9 54.6 L865.5 53.6 L866.2 52.7 L866.8 51.8 L867.4 51.3 L868 50.3 L868.6 49.5 L869.2 49 L869.8 48 L870.4 47.1 L871 46.3 L871.6 45.5 L872.2 44.6 L872.8 43.9 L873.4 43 L874 42 L874.6 41.6 L875.2 40.9 L875.8 40.4 L876.4 39.9 L877 39.3 L877.6 38.8 L878.3 38.1 L878.9 37.6 L879.5 37.1 L880.1 36.6 L880.7 36.2 L881.3 35.9 L881.9 35.5 L882.5 35 L883.1 34.7 L883.7 34.2 L884.3 33.8 L884.9 33.3 L885.5 32.8 L886.1 32.4 L886.7 32 L887.3 31.7 L887.9 31.4 L888.5 31.1 L889.1 30.8 L889.8 30.6 L890.4 30.2 L891 29.9 L891.6 29.6 L892.2 29.4 L892.8 29.1 L893.4 28.9 L894 28.7 L894.6 28.5 L895.2 28.3 L895.8 28 L896.4 27.8 L897 27.6 L897.6 27.5 L898.2 27.4 L898.8 27.2 L899.4 27 L900 26.8 L900.6 26.6 L901.2 26.4 L901.9 26.3 L902.5 26.1 L903.1 25.9 L903.7 25.8 L904.3 25.6 L904.9 25.5 L905.5 25.3 L906.1 25.2 L906.7 25 L907.3 24.9 L907.9 24.8 L908.5 24.6 L909.1 24.5 L909.7 24.3 L910.3 24.2 L910.9 24.1 L911.5 24 L912.1 23.9 L912.7 23.8 L913.3 23.6 L914 23.5 L914.6 23.4 L915.2 23.3 L915.8 23.2 L916.4 23 L917 22.9 L917.6 22.8 L918.2 22.8 L918.8 22.7 L919.4 22.6 L920 22.5 L920.6 22.4 L921.2 22.3 L921.8 22.2 L922.4 22.1 L923 22 L923.6 21.9 L924.2 21.8 L924.8 21.7 L925.4 21.7 L926.1 21.6 L926.7 21.5 L927.3 21.5 L927.9 21.4 L928.5 21.4 L929.1 21.3 L929.7 21.3 L930.3 21.2 L930.9 21.2 L931.5 21.1 L932.1 21.1 L932.7 21 L933.3 21 L933.9 21 L934.5 20.9 L935.1 20.9 L935.7 20.8 L936.3 20.8 L936.9 20.8 L937.6 20.8 L938.2 20.7 L938.8 20.7 L939.4 20.7 L940 20.7 L940.6 20.7 L941.2 20.7 L941.8 20.7 L942.4 20.6 L943 20.6 L943.6 20.6 L944.2 20.6 L944.8 20.6 L945.4 20.6 L946 20.6 L946.6 20.6 L947.2 20.6 L947.8 20.6 L948.4 20.6 L949 20.6 L949.7 20.6 L950.3 20.6 L950.9 20.5 L951.5 20.5 L952.1 20.5 L952.7 20.5 L953.3 20.5 L953.9 20.5 L954.5 20.5 L955.1 20.5 L955.7 20.5 L956.3 20.5 L956.9 20.5 L957.5 20.5 L958.1 20.5 L958.7 20.5 L959.3 20.5 L959.9 20.5 L960.5 20.5 L961.1 20.5" fill="none" stroke="#b4b4b4" stroke-width="1.5" stroke-linejoin="round"/>
<path d="M707.6 204 L708.2 204 L708.8 204 L709.4 204 L710 204 L710.7 204 L711.3 204 L711.9 204 L712.5 204 L713.1 204 L713.7 203.9 L714.3 203.9 L714.9 203.9 L715.5 203.9 L716.1 203.9 L716.7 203.9 L717.3 203.9 L717.9 203.9 L718.5 203.9 L719.1 203.9 L719.7 203.8 L720.3 203.8 L720.9 203.8 L721.5 203.8 L722.1 203.8 L722.8 203.8 L723.4 203.7 L724 203.7 L724.6 203.7 L725.2 203.7 L725.8 203.7 L726.4 203.7 L727 203.7 L727.6 203.6 L728.2 203.6 L728.8 203.6 L729.4 203.6 L730 203.6 L730.6 203.5 L731.2 203.5 L731.8 203.5 L732.4 203.5 L733 203.5 L733.6 203.4 L734.2 203.4 L734.9 203.4 L735.5 203.4 L736.1 203.3 L736.7 203.3 L737.3 203.3 L737.9 203.3 L738.5 203.3 L739.1 203.2 L739.7 203.2 L740.3 203.2 L740.9 203.1 L741.5 203.1 L742.1 203 L742.7 203 L743.3 203 L743.9 202.9 L744.5 202.9 L745.1 202.9 L745.7 202.8 L746.3 202.8 L747 202.8 L747.6 202.7 L748.2 202.7 L748.8 202.6 L749.4 202.6 L750 202.6 L750.6 202.5 L751.2 202.5 L751.8 202.4 L752.4 202.4 L753 202.3 L753.6 202.3 L754.2 202.3 L754.8 202.2 L755.4 202.2 L756 202.2 L756.6 202.1 L757.2 202.1 L757.8 202 L758.5 201.9 L759.1 201.9 L759.7 201.9 L760.3 201.8 L760.9 201.8 L761.5 201.7 L762.1 201.6 L762.7 201.5 L763.3 201.5 L763.9 201.5 L764.5 201.4 L765.1 201.3 L765.7 201.2 L766.3 201.2 L766.9 201.1 L767.5 201.1 L768.1 201 L768.7 200.9 L769.3 200.8 L769.9 200.8 L770.6 200.7 L771.2 200.6 L771.8 200.5 L772.4 200.4 L773 200.3 L773.6 200.2 L774.2 200.1 L774.8 199.9 L775.4 199.8 L776 199.7 L776.6 199.6 L777.2 199.5 L777.8 199.3 L778.4 199.3 L779 199.2 L779.6 199.1 L780.2 199 L780.8 198.9 L781.4 198.8 L782 198.7 L782.7 198.6 L783.3 198.4 L783.9 198.3 L784.5 198.1 L785.1 197.9 L785.7 197.8 L786.3 197.6 L786.9 197.6 L787.5 197.5 L788.1 197.4 L788.7 197.3 L789.3 197.1 L789.9 197 L790.5 196.9 L791.1 196.8 L791.7 196.7 L792.3 196.5 L792.9 196.3 L793.5 196.2 L794.1 196.1 L794.8 196.1 L795.4 196.1 L796 195.9 L796.6 195.7 L797.2 195.5 L797.8 195.2 L798.4 195.1 L799 194.7 L799.6 194.5 L800.2 194.2 L800.8 193.9 L801.4 193.6 L802 193.3 L802.6 193 L803.2 192.6 L803.8 192.4 L804.4 191.9 L805 191.2 L805.6 190.7 L806.3 190.1 L806.9 189.6 L807.5 189.5 L808.1 188.9 L808.7 188.5 L809.3 188 L809.9 187.2 L810.5 186.7 L811.1 186 L811.7 185.3 L812.3 184.8 L812.9 183.9 L813.5 183.2 L814.1 182.5 L814.7 181.7 L815.3 180.9 L815.9 180.6 L816.5 179.7 L817.1 178.8 L817.7 178.1 L818.4 177 L819 176.8 L819.6 176.5 L820.2 176.2 L820.8 175.9 L821.4 175 L822 174.6 L822.6 173.9 L823.2 173.6 L823.8 173.3 L824.4 172.6 L825 172.2 L825.6 171.5 L826.2 170.6 L826.8 170.3 L827.4 169.8 L828 169.3 L828.6 168.9 L829.2 167.7 L829.8 166.9 L830.5 166.2 L831.1 165.9 L831.7 165.4 L832.3 164.9 L832.9 163.8 L833.5 162.7 L834.1 162.1 L834.7 160.9 L835.3 160.2 L835.9 159.2 L836.5 158.3 L837.1 157 L837.7 156 L838.3 155.1 L838.9 153.5 L839.5 152.4 L840.1 151 L840.7 149.6 L841.3 148.3 L842 146.3 L842.6 144 L843.2 141.8 L843.8 139.6 L844.4 138.4 L845 137.3 L845.6 135.8 L846.2 134.9 L846.8 133.5 L847.4 131.9 L848 130.7 L848.6 129.3 L849.2 127.6 L849.8 126.3 L850.4 124.6 L851 122.9 L851.6 121.8 L852.2 120.3 L852.8 119.3 L853.4 118.2 L854.1 116.9 L854.7 115.4 L855.3 113.9 L855.9 112.1 L856.5 111.2 L857.1 110.2 L857.7 109.3 L858.3 108.3 L858.9 106.7 L859.5 105.5 L860.1 104 L860.7 102.8 L861.3 101.8 L861.9 100.1 L862.5 98.8 L863.1 97.8 L863.7 96.1 L864.3 95.5 L864.9 94.3 L865.5 93 L866.2 92.2 L866.8 91 L867.4 90.2 L868 88.9 L868.6 87.5 L869.2 86.2 L869.8 85 L870.4 84.8 L871 83.7 L871.6 83 L872.2 81.7 L872.8 79.4 L873.4 78.3 L874 76.9 L874.6 76 L875.2 75.3 L875.8 74.5 L876.4 73.6 L877 72.8 L877.6 71.5 L878.3 70.5 L878.9 69.2 L879.5 68.2 L880.1 67.5 L880.7 66.6 L881.3 65.8 L881.9 64.7 L882.5 63.7 L883.1 62.9 L883.7 62.2 L884.3 61.2 L884.9 60.3 L885.5 59.4 L886.1 58.1 L886.7 57.3 L887.3 56.3 L887.9 55.6 L888.5 54.6 L889.1 54 L889.8 53.4 L890.4 52.7 L891 52.6 L891.6 52.3 L892.2 51.7 L892.8 51.1 L893.4 50.3 L894 49.7 L894.6 49.4 L895.2 49 L895.8 48.6 L896.4 47.7 L897 46.8 L897.6 45.8 L898.2 44.9 L898.8 44.5 L899.4 44.1 L900 44.1 L900.6 43.9 L901.2 43.2 L901.9 42.4 L902.5 41.4 L903.1 40.7 L903.7 40.1 L904.3 39.7 L904.9 39.1 L905.5 38.8 L906.1 38.4 L906.7 38.2 L907.3 37.7 L907.9 37.1 L908.5 36.6 L909.1 36.1 L909.7 35.9 L910.3 35.6 L910.9 35.3 L911.5 34.8 L912.1 34.4 L912.7 34 L913.3 33.5 L914 33.1 L914.6 32.8 L915.2 32.4 L915.8 32.1 L916.4 31.7 L917 31.3 L917.6 30.9 L918.2 30.5 L918.8 30.3 L919.4 29.9 L920 29.6 L920.6 29.2 L921.2 28.8 L921.8 28.6 L922.4 28.3 L923 28.1 L923.6 27.8 L924.2 27.5 L924.8 27.2 L925.4 26.9 L926.1 26.6 L926.7 26.3 L927.3 26 L927.9 25.7 L928.5 25.5 L929.1 25.1 L929.7 24.8 L930.3 24.5 L930.9 24.2 L931.5 23.9 L932.1 23.6 L932.7 23.3 L933.3 23 L933.9 22.7 L934.5 22.4 L935.1 22.2 L935.7 22 L936.3 21.9 L936.9 21.7 L937.6 21.6 L938.2 21.4 L938.8 21.3 L939.4 21.2 L940 21.1 L940.6 21 L941.2 20.9 L941.8 20.9 L942.4 20.8 L943 20.8 L943.6 20.8 L944.2 20.8 L944.8 20.8 L945.4 20.7 L946 20.7 L946.6 20.7 L947.2 20.7 L947.8 20.7 L948.4 20.6 L949 20.6 L949.7 20.6 L950.3 20.6 L950.9 20.6 L951.5 20.6 L952.1 20.6 L952.7 20.6 L953.3 20.6 L953.9 20.5 L954.5 20.5 L955.1 20.5 L955.7 20.5 L956.3 20.5 L956.9 20.5 L957.5 20.5 L958.1 20.5 L958.7 20.5 L959.3 20.5 L959.9 20.5 L960.5 20.5 L961.1 20.5" fill="none" stroke="#e9a25c" stroke-width="1.4" stroke-linejoin="round"/>
<path d="M707.6 204 L708.2 204 L708.8 204 L709.4 204 L710 204 L710.7 204 L711.3 204 L711.9 204 L712.5 204 L713.1 204 L713.7 204 L714.3 203.9 L714.9 203.9 L715.5 203.9 L716.1 203.9 L716.7 203.9 L717.3 203.9 L717.9 203.9 L718.5 203.9 L719.1 203.8 L719.7 203.8 L720.3 203.8 L720.9 203.8 L721.5 203.8 L722.1 203.8 L722.8 203.8 L723.4 203.7 L724 203.7 L724.6 203.7 L725.2 203.7 L725.8 203.7 L726.4 203.7 L727 203.6 L727.6 203.6 L728.2 203.6 L728.8 203.6 L729.4 203.6 L730 203.5 L730.6 203.5 L731.2 203.5 L731.8 203.5 L732.4 203.5 L733 203.5 L733.6 203.4 L734.2 203.4 L734.9 203.4 L735.5 203.4 L736.1 203.4 L736.7 203.3 L737.3 203.3 L737.9 203.3 L738.5 203.2 L739.1 203.2 L739.7 203.2 L740.3 203.1 L740.9 203.1 L741.5 203.1 L742.1 203 L742.7 203 L743.3 203 L743.9 203 L744.5 202.9 L745.1 202.9 L745.7 202.8 L746.3 202.8 L747 202.8 L747.6 202.7 L748.2 202.7 L748.8 202.7 L749.4 202.6 L750 202.6 L750.6 202.5 L751.2 202.5 L751.8 202.4 L752.4 202.4 L753 202.3 L753.6 202.3 L754.2 202.3 L754.8 202.2 L755.4 202.1 L756 202.1 L756.6 202 L757.2 202 L757.8 202 L758.5 201.9 L759.1 201.8 L759.7 201.8 L760.3 201.7 L760.9 201.6 L761.5 201.6 L762.1 201.5 L762.7 201.4 L763.3 201.4 L763.9 201.3 L764.5 201.3 L765.1 201.2 L765.7 201.1 L766.3 201 L766.9 200.9 L767.5 200.8 L768.1 200.7 L768.7 200.7 L769.3 200.6 L769.9 200.5 L770.6 200.5 L771.2 200.3 L771.8 200.2 L772.4 200.2 L773 200.1 L773.6 200 L774.2 199.9 L774.8 199.9 L775.4 199.8 L776 199.7 L776.6 199.5 L777.2 199.3 L777.8 199.2 L778.4 199.1 L779 198.9 L779.6 198.9 L780.2 198.8 L780.8 198.6 L781.4 198.5 L782 198.3 L782.7 198.2 L783.3 198 L783.9 197.9 L784.5 197.7 L785.1 197.6 L785.7 197.4 L786.3 197.3 L786.9 197.1 L787.5 197 L788.1 196.7 L788.7 196.5 L789.3 196.4 L789.9 196.3 L790.5 196.1 L791.1 196 L791.7 195.9 L792.3 195.7 L792.9 195.6 L793.5 195.4 L794.1 195.2 L794.8 195 L795.4 194.8 L796 194.7 L796.6 194.5 L797.2 194.3 L797.8 194.1 L798.4 193.9 L799 193.6 L799.6 193.4 L800.2 193 L800.8 192.7 L801.4 192.3 L802 191.8 L802.6 191.5 L803.2 191.1 L803.8 190.6 L804.4 190.1 L805 189.4 L805.6 189 L806.3 188.7 L806.9 188.2 L807.5 187.7 L808.1 186.9 L808.7 186.1 L809.3 185.6 L809.9 184.9 L810.5 184.5 L811.1 184 L811.7 182.9 L812.3 182.2 L812.9 181.2 L813.5 180.2 L814.1 179.5 L814.7 178.7 L815.3 177.9 L815.9 177.3 L816.5 177 L817.1 176.1 L817.7 175.3 L818.4 174.4 L819 173.5 L819.6 173 L820.2 172.7 L820.8 172 L821.4 171.3 L822 170.7 L822.6 170 L823.2 169.5 L823.8 169 L824.4 168.4 L825 168.1 L825.6 167.6 L826.2 166.8 L826.8 166.5 L827.4 165.7 L828 165.1 L828.6 164.7 L829.2 163.9 L829.8 163.5 L830.5 163 L831.1 162.7 L831.7 162.3 L832.3 161.1 L832.9 160.5 L833.5 159.3 L834.1 157.6 L834.7 156.7 L835.3 155.5 L835.9 154.8 L836.5 154.4 L837.1 153.5 L837.7 152.4 L838.3 151 L838.9 149.4 L839.5 147.6 L840.1 146 L840.7 144.4 L841.3 142.9 L842 141 L842.6 139 L843.2 136.6 L843.8 134.3 L844.4 132.8 L845 131.1 L845.6 130.2 L846.2 128.3 L846.8 126.4 L847.4 125.1 L848 123.5 L848.6 122.5 L849.2 121.8 L849.8 120.5 L850.4 118.5 L851 117.1 L851.6 115.3 L852.2 113.4 L852.8 112.5 L853.4 111.1 L854.1 109.8 L854.7 109 L855.3 107.3 L855.9 106.4 L856.5 104.6 L857.1 103.3 L857.7 101.7 L858.3 100.6 L858.9 99.8 L859.5 98.8 L860.1 98.6 L860.7 97.1 L861.3 95.9 L861.9 94.8 L862.5 93 L863.1 92 L863.7 91 L864.3 89.3 L864.9 88.3 L865.5 87.4 L866.2 85.8 L866.8 84.6 L867.4 83.6 L868 82.3 L868.6 82 L869.2 81.3 L869.8 80 L870.4 78.7 L871 77.6 L871.6 76.3 L872.2 75.1 L872.8 74.1 L873.4 73 L874 71.6 L874.6 70.8 L875.2 69.8 L875.8 68.9 L876.4 68.6 L877 68 L877.6 67.2 L878.3 66.3 L878.9 65 L879.5 63.8 L880.1 62.8 L880.7 61.9 L881.3 61.3 L881.9 61 L882.5 60.3 L883.1 59.7 L883.7 58.9 L884.3 57.8 L884.9 57.2 L885.5 56.5 L886.1 55.7 L886.7 54.9 L887.3 54.2 L887.9 53.3 L888.5 52.7 L889.1 52.3 L889.8 51.6 L890.4 50.9 L891 50.4 L891.6 49.5 L892.2 48.8 L892.8 48.3 L893.4 47.8 L894 47.2 L894.6 46.8 L895.2 46.5 L895.8 45.9 L896.4 45.5 L897 45 L897.6 44.4 L898.2 43.6 L898.8 43.2 L899.4 42.8 L900 42.2 L900.6 41.7 L901.2 41 L901.9 40.5 L902.5 40 L903.1 39.5 L903.7 39 L904.3 38.6 L904.9 38.3 L905.5 37.9 L906.1 37.9 L906.7 37.4 L907.3 36.9 L907.9 36.6 L908.5 36.1 L909.1 35.6 L909.7 35.3 L910.3 34.8 L910.9 34.4 L911.5 34.1 L912.1 33.8 L912.7 33.5 L913.3 33.1 L914 32.7 L914.6 32.3 L915.2 31.9 L915.8 31.7 L916.4 31.4 L917 31.2 L917.6 30.8 L918.2 30.3 L918.8 29.9 L919.4 29.5 L920 29.2 L920.6 29 L921.2 28.7 L921.8 28.4 L922.4 28 L923 27.7 L923.6 27.5 L924.2 27.2 L924.8 27.1 L925.4 26.9 L926.1 26.7 L926.7 26.4 L927.3 26.1 L927.9 25.7 L928.5 25.5 L929.1 25.2 L929.7 24.9 L930.3 24.5 L930.9 24.2 L931.5 23.8 L932.1 23.4 L932.7 23.1 L933.3 22.8 L933.9 22.5 L934.5 22.3 L935.1 22.1 L935.7 21.9 L936.3 21.7 L936.9 21.6 L937.6 21.4 L938.2 21.3 L938.8 21.2 L939.4 21.1 L940 21 L940.6 20.9 L941.2 20.9 L941.8 20.9 L942.4 20.8 L943 20.8 L943.6 20.8 L944.2 20.8 L944.8 20.8 L945.4 20.7 L946 20.7 L946.6 20.7 L947.2 20.7 L947.8 20.7 L948.4 20.7 L949 20.6 L949.7 20.6 L950.3 20.6 L950.9 20.6 L951.5 20.6 L952.1 20.6 L952.7 20.6 L953.3 20.6 L953.9 20.5 L954.5 20.5 L955.1 20.5 L955.7 20.5 L956.3 20.5 L956.9 20.5 L957.5 20.5 L958.1 20.5 L958.7 20.5 L959.3 20.5 L959.9 20.5 L960.5 20.5 L961.1 20.5" fill="none" stroke="#2b857c" stroke-width="1.6" stroke-linejoin="round"/>
<line x1="720" y1="38" x2="731.6" y2="38" stroke="#b4b4b4" stroke-width="1.5"/>
<text x="735" y="41.4" font-size="11.8" fill="#3a3a3a" stroke="#3a3a3a" stroke-width="0.3">siCtrl</text>
<line x1="720" y1="51.8" x2="731.6" y2="51.8" stroke="#e9a25c" stroke-width="1.5"/>
<text x="735" y="55.2" font-size="11.8" fill="#3a3a3a" stroke="#3a3a3a" stroke-width="0.3">7SK ASO</text>
<line x1="720" y1="66.2" x2="731.6" y2="66.2" stroke="#2b857c" stroke-width="1.5"/>
<text x="735" y="69.6" font-size="11.8" fill="#3a3a3a" stroke="#3a3a3a" stroke-width="0.3">siPUS7</text>
<text x="715.6" y="169.9" font-size="12" font-weight="bold" fill="#2b857c">P = 3.71 x 10<tspan font-size="6.5" dy="-4.5" font-weight="normal" fill="#7fb5ae">-89</tspan></text>
<text x="715.6" y="184.7" font-size="12" font-weight="bold" fill="#e29a5a">P = 1.81 x 10<tspan font-size="6.5" dy="-4.5" font-weight="normal" fill="#f0c79f">-60</tspan></text>
<line x1="922.7" y1="54.8" x2="922.7" y2="176.4" stroke="#8a8a8a" stroke-width="1"/>
<line x1="922.7" y1="176.4" x2="968" y2="176.4" stroke="#8a8a8a" stroke-width="1"/>
<line x1="920.2" y1="54.8" x2="922.7" y2="54.8" stroke="#8a8a8a" stroke-width="1"/>
<text x="917.9" y="58.5" font-size="10.4" text-anchor="end" fill="#4f4f4f" stroke="#4f4f4f" stroke-width="0.3">2</text>
<line x1="920.2" y1="85.2" x2="922.7" y2="85.2" stroke="#8a8a8a" stroke-width="1"/>
<text x="917.9" y="88.9" font-size="10.4" text-anchor="end" fill="#4f4f4f" stroke="#4f4f4f" stroke-width="0.3">1</text>
<line x1="920.2" y1="115.6" x2="922.7" y2="115.6" stroke="#8a8a8a" stroke-width="1"/>
<text x="917.9" y="119.3" font-size="10.4" text-anchor="end" fill="#4f4f4f" stroke="#4f4f4f" stroke-width="0.3">0</text>
<line x1="920.2" y1="146" x2="922.7" y2="146" stroke="#8a8a8a" stroke-width="1"/>
<text x="917.9" y="149.7" font-size="10.4" text-anchor="end" fill="#4f4f4f" stroke="#4f4f4f" stroke-width="0.3">−1</text>
<line x1="920.2" y1="176.4" x2="922.7" y2="176.4" stroke="#8a8a8a" stroke-width="1"/>
<text x="917.9" y="180.1" font-size="10.4" text-anchor="end" fill="#4f4f4f" stroke="#4f4f4f" stroke-width="0.3">−2</text>
<text x="946.5" y="45.6" font-size="11.5" text-anchor="middle" fill="#3a3a3a" stroke="#3a3a3a" stroke-width="0.3">n =2058</text>
<text transform="translate(902.5 114) rotate(-90)" text-anchor="middle" font-size="12.1" stroke="#3a3a3a" stroke-width="0.3" fill="#3a3a3a">log<tspan font-size="7" dy="2.5">2</tspan><tspan dy="-2.5">PRR</tspan></text>
<line x1="931" y1="71.5" x2="931" y2="159.1" stroke="#7a7a7a" stroke-width="0.9"/>
<rect x="926.5" y="104.2" width="9" height="22.5" fill="#b9b9b9" stroke="#7d7d7d" stroke-width="0.8"/>
<line x1="926.5" y1="115.6" x2="935.5" y2="115.6" stroke="#7d7d7d" stroke-width="1.1"/>
<line x1="944.9" y1="56" x2="944.9" y2="154.7" stroke="#7a7a7a" stroke-width="0.9"/>
<rect x="940.4" y="90.5" width="9" height="26.1" fill="#f0a552" stroke="#b06a22" stroke-width="0.8"/>
<line x1="940.4" y1="103.8" x2="949.4" y2="103.8" stroke="#b06a22" stroke-width="1.1"/>
<line x1="959" y1="56" x2="959" y2="157.2" stroke="#7a7a7a" stroke-width="0.9"/>
<rect x="954.5" y="92.4" width="9" height="26.6" fill="#1f7f75" stroke="#14554e" stroke-width="0.8"/>
<line x1="954.5" y1="106.3" x2="963.5" y2="106.3" stroke="#14554e" stroke-width="1.1"/>
<text transform="translate(934.5 181.5) rotate(-52)" font-size="10.6" text-anchor="end" fill="#3a3a3a" stroke="#3a3a3a" stroke-width="0.3">siCtrl</text>
<text transform="translate(948.5 181.5) rotate(-52)" font-size="10.6" text-anchor="end" fill="#3a3a3a" stroke="#3a3a3a" stroke-width="0.3">7SK ASO</text>
<text transform="translate(962.5 181.5) rotate(-52)" font-size="10.6" text-anchor="end" fill="#3a3a3a" stroke="#3a3a3a" stroke-width="0.3">siPUS7</text>
</g>
<g id="panelD">
<text x="10" y="230.6" font-size="14.5" font-weight="bold" fill="#111">D</text>
<text x="41.5" y="243.9" font-size="11.9" fill="#3a3a3a" stroke="#3a3a3a" stroke-width="0.3">chr5:138,460,056-138,476,438</text>
<path d="M39.4 281.4 L40.1 281.3 L40.8 281.2 L41.5 281.4 L42.2 281.2 L42.9 281.1 L43.6 281.3 L44.3 281.2 L45 281.3 L45.7 281.2 L46.4 281.1 L47.1 281.3 L47.8 281.3 L48.5 281.1 L49.2 281.1 L49.9 281 L50.6 281 L51.3 281 L52 280.9 L52.7 281 L53.4 280.9 L54.1 280.8 L54.8 280.9 L55.5 280.8 L56.2 280.9 L56.9 281 L57.6 280.8 L58.3 280.7 L59 280.8 L59.7 280.7 L60.4 280.7 L61.1 280.7 L61.8 280.8 L62.5 280.8 L63.2 280.8 L63.9 280.8 L64.6 280.8 L65.3 280.7 L66 280.6 L66.7 280.5 L67.4 280.6 L68.1 280.7 L68.8 280.8 L69.5 280.8 L70.2 280.6 L70.9 280.5 L71.6 280.4 L72.3 280.4 L73 280.5 L73.7 280.5 L74.4 280.3 L75.1 280.1 L75.8 280.3 L76.5 280.3 L77.2 279.7 L77.9 279 L78.6 278.1 L79.3 276.8 L80 275 L80.7 272.6 L81.4 271.3 L82.1 270.5 L82.8 269.6 L83.5 269.4 L84.2 269.7 L84.9 269.6 L85.6 269.1 L86.3 268.8 L87 269 L87.7 269.4 L88.4 269.9 L89.1 271.1 L89.8 270.7 L90.5 271 L91.2 270.9 L91.9 270 L92.6 269.5 L93.3 269.1 L94 269.5 L94.7 270.1 L95.4 269.2 L96.1 269.3 L96.8 270.1 L97.5 270.2 L98.2 270 L98.9 268.8 L99.6 267.8 L100.3 268.8 L101 269.2 L101.7 267.5 L102.4 267.3 L103.1 267.5 L103.8 266.4 L104.5 265.4 L105.2 265.3 L105.9 266.2 L106.6 266.8 L107.3 267.1 L108 267.7 L108.7 268.5 L109.4 268 L110.1 268 L110.8 268.8 L111.5 268.7 L112.2 269 L112.9 269.8 L113.6 270.1 L114.3 269.8 L115 270 L115.7 271.1 L116.4 270.5 L117.1 268.6 L117.8 268.8 L118.5 269.4 L119.2 269.2 L119.9 268.1 L120.6 268.1 L121.3 268 L122 266.8 L122.7 266.6 L123.4 266.8 L124.1 267.1 L124.8 267.2 L125.5 267 L126.2 267.3 L126.9 267.6 L127.6 267.7 L128.3 267.3 L129 266 L129.7 266.4 L130.4 265.9 L131.1 264.9 L131.8 264.9 L132.5 264.3 L133.2 263.8 L133.9 264.2 L134.6 262.9 L135.3 262.3 L136 264 L136.7 264.4 L137.4 264.2 L138.1 265.2 L138.8 266.7 L139.5 266.7 L140.2 266.7 L140.9 267.9 L141.6 268.9 L142.3 269.9 L143 270.7 L143.7 270.8 L144.4 270.3 L145.1 269.9 L145.8 269.4 L146.5 269.4 L147.2 269.3 L147.9 268.7 L148.6 269 L149.3 268.8 L150 267 L150.7 266.9 L151.4 266.5 L152.1 265.6 L152.8 264.3 L153.5 262.5 L154.2 261 L154.9 260.6 L155.6 261.4 L156.3 263.5 L157 263.3 L157.7 261.7 L158.4 262.2 L159.1 261 L159.8 260.5 L160.5 262.9 L161.2 264.4 L161.9 265.4 L162.6 266.1 L163.3 265.7 L164 266 L164.7 266.6 L165.4 267.3 L166.1 267.4 L166.8 267.2 L167.5 267.3 L168.2 268 L168.9 268.4 L169.6 267 L170.3 265.4 L171 264.9 L171.7 263.9 L172.4 262.6 L173.1 261.3 L173.8 259.9 L174.5 258.9 L175.2 258 L175.9 256.3 L176.6 255.3 L177.3 254.9 L178 255.2 L178.7 255.5 L179.4 254.7 L180.1 255.2 L180.8 255 L181.5 256.3 L182.2 258.3 L182.9 259.8 L183.6 259.7 L184.3 260.3 L185 261.4 L185.7 261 L186.4 259.8 L187.1 259.3 L187.8 260 L188.5 260 L189.2 259.6 L189.9 257.4 L190.6 256.4 L191.3 255.7 L192 255.1 L192.7 255 L193.4 255 L194.1 254.4 L194.8 253.1 L195.5 252.3 L196.2 253.2 L196.9 253.8 L197.6 253 L198.3 252.3 L199 252 L199.7 252 L200.4 252.3 L201.1 253.2 L201.8 255.4 L202.5 257 L203.2 257 L203.9 257.5 L204.6 258.6 L205.3 260.6 L206 262.4 L206.7 262.9 L207.4 263.3 L208.1 264 L208.8 264.2 L209.5 265.5 L210.2 266.8 L210.9 267.9 L211.6 268.1 L212.3 267.6 L213 268.9 L213.7 269.4 L214.4 269 L215.1 269.3 L215.8 270.5 L216.5 271.6 L217.2 272.1 L217.9 272.1 L218.6 272.2 L219.3 271.5 L220 270.7 L220.7 270.1 L221.4 270 L222.1 270.2 L222.8 269.6 L223.5 269.1 L224.2 268.6 L224.9 267.9 L225.6 268.5 L226.3 270.4 L227 271.9 L227.7 273.2 L228.4 273.9 L229.1 274.3 L229.8 275.4 L230.5 276.1 L231.2 276.2 L231.9 276.6 L232.6 276.8 L233.3 276.4 L234 276.4 L234.7 276.7 L235.4 276.3 L236.1 276.4 L236.8 276.3 L237.5 275.2 L238.2 274.6 L238.9 273.9 L239.6 273.6 L240.3 273.3 L241 273.6 L241.7 274.1 L242.4 274 L243.1 274 L243.8 273.6 L244.5 274.1 L245.2 275.3 L245.9 276.5 L246.6 277.6 L247.3 278.6 L248 279.6 L248.7 279.9 L249.4 280.1 L250.1 280.3 L250.8 280.6 L251.5 280.9 L252.2 280.8 L252.9 280.7 L253.6 280.8 L254.3 280.6 L255 280.2 L255.7 280 L256.4 279.8 L256.4 282.4 L39.4 282.4 Z" fill="#edb27a"/>
<line x1="39.4" y1="282.4" x2="256.4" y2="282.4" stroke="#bf7e44" stroke-width="2"/>
<path d="M39.4 323.8 L40.1 323.8 L40.8 323.8 L41.5 323.4 L42.2 323.2 L42.9 323.1 L43.6 322.9 L44.3 322.8 L45 322.6 L45.7 322.6 L46.4 322.5 L47.1 322.3 L47.8 322.3 L48.5 322.2 L49.2 322 L49.9 321.8 L50.6 321.9 L51.3 321.8 L52 321.4 L52.7 321.2 L53.4 321.2 L54.1 321.2 L54.8 321.3 L55.5 321.6 L56.2 321.3 L56.9 321.3 L57.6 321.8 L58.3 321.8 L59 321.7 L59.7 321.8 L60.4 321.8 L61.1 321.3 L61.8 321.2 L62.5 321.2 L63.2 321.5 L63.9 321.6 L64.6 321.4 L65.3 320.9 L66 320.6 L66.7 320.6 L67.4 320.6 L68.1 320.3 L68.8 320.3 L69.5 320.7 L70.2 320.6 L70.9 320.5 L71.6 320.3 L72.3 319.8 L73 319.8 L73.7 320.3 L74.4 320.5 L75.1 319.1 L75.8 318 L76.5 316.9 L77.2 315.9 L77.9 315.1 L78.6 313.4 L79.3 312.9 L80 312 L80.7 310.6 L81.4 309.6 L82.1 309.4 L82.8 309.4 L83.5 308.7 L84.2 307.9 L84.9 308 L85.6 307.5 L86.3 306.5 L87 307.2 L87.7 308.2 L88.4 307.8 L89.1 306.4 L89.8 306.6 L90.5 308.2 L91.2 309 L91.9 310.1 L92.6 310.1 L93.3 310.1 L94 310.6 L94.7 311.1 L95.4 311.6 L96.1 311.7 L96.8 311.7 L97.5 310.9 L98.2 310.9 L98.9 311.5 L99.6 311.8 L100.3 312.8 L101 313.6 L101.7 313.1 L102.4 311.9 L103.1 311.6 L103.8 311.6 L104.5 312.5 L105.2 313.2 L105.9 313.1 L106.6 313 L107.3 312.3 L108 312.1 L108.7 312.2 L109.4 312.4 L110.1 312.6 L110.8 311.9 L111.5 311.5 L112.2 312.9 L112.9 313 L113.6 312.4 L114.3 313 L115 313.5 L115.7 313.4 L116.4 313.8 L117.1 314.6 L117.8 313.5 L118.5 312.7 L119.2 313.4 L119.9 313.2 L120.6 313 L121.3 312.8 L122 313.2 L122.7 313.1 L123.4 312.5 L124.1 312.4 L124.8 312.2 L125.5 311.7 L126.2 311.8 L126.9 311.5 L127.6 310.8 L128.3 310.4 L129 309.7 L129.7 309.2 L130.4 309.1 L131.1 309.4 L131.8 309.4 L132.5 308.6 L133.2 308.5 L133.9 308.7 L134.6 307.4 L135.3 307.5 L136 307.8 L136.7 307.6 L137.4 308.7 L138.1 309.3 L138.8 309.2 L139.5 310.7 L140.2 310.5 L140.9 309.3 L141.6 309.9 L142.3 309.3 L143 308.6 L143.7 308.9 L144.4 309.6 L145.1 308.7 L145.8 307.3 L146.5 307.6 L147.2 307.5 L147.9 307.5 L148.6 308.5 L149.3 309.9 L150 310.8 L150.7 312 L151.4 312.2 L152.1 311.6 L152.8 311.1 L153.5 310.2 L154.2 309.8 L154.9 310 L155.6 309.4 L156.3 308.9 L157 308.2 L157.7 308.4 L158.4 309.2 L159.1 308.2 L159.8 307.2 L160.5 307.1 L161.2 307.2 L161.9 307.2 L162.6 306.4 L163.3 305.7 L164 305.3 L164.7 304.6 L165.4 304.5 L166.1 304.8 L166.8 305 L167.5 305.6 L168.2 306.1 L168.9 306.4 L169.6 306.2 L170.3 305.2 L171 304.4 L171.7 304.1 L172.4 303.3 L173.1 302.8 L173.8 302.5 L174.5 301 L175.2 300.2 L175.9 299.8 L176.6 299.6 L177.3 299.4 L178 298.6 L178.7 298.9 L179.4 300.2 L180.1 300.5 L180.8 300 L181.5 300.4 L182.2 299.7 L182.9 300 L183.6 301.2 L184.3 301.3 L185 301.6 L185.7 301.6 L186.4 301.3 L187.1 301.4 L187.8 301.5 L188.5 301.6 L189.2 300.8 L189.9 299.2 L190.6 298 L191.3 296.7 L192 297.2 L192.7 296.7 L193.4 295.4 L194.1 295.5 L194.8 295.4 L195.5 295.7 L196.2 294.2 L196.9 292.8 L197.6 293.4 L198.3 292.1 L199 290.8 L199.7 290.6 L200.4 290.7 L201.1 289.3 L201.8 288.3 L202.5 290 L203.2 292.1 L203.9 292.6 L204.6 292.8 L205.3 295.3 L206 297.9 L206.7 299.2 L207.4 300.5 L208.1 301.1 L208.8 302.2 L209.5 304.2 L210.2 305.8 L210.9 304.5 L211.6 303.6 L212.3 305.4 L213 305.8 L213.7 304.5 L214.4 304.4 L215.1 304.6 L215.8 304.2 L216.5 303.7 L217.2 303.3 L217.9 302.9 L218.6 302.7 L219.3 302.2 L220 301.9 L220.7 303.1 L221.4 304.7 L222.1 305.8 L222.8 306.4 L223.5 307.6 L224.2 309 L224.9 310.4 L225.6 311.6 L226.3 312.8 L227 313.9 L227.7 313.8 L228.4 313.7 L229.1 314.8 L229.8 315.9 L230.5 315.9 L231.2 315.6 L231.9 315.5 L232.6 316.6 L233.3 318 L234 317.9 L234.7 317 L235.4 316.8 L236.1 316.9 L236.8 316.4 L237.5 316.6 L238.2 315.9 L238.9 315.4 L239.6 314.6 L240.3 314.3 L241 314.2 L241.7 314.6 L242.4 315.7 L243.1 316.3 L243.8 316.8 L244.5 316.7 L245.2 317.2 L245.9 317.7 L246.6 318.2 L247.3 318.9 L248 318.9 L248.7 319.2 L249.4 319.9 L250.1 320.2 L250.8 320.8 L251.5 321.6 L252.2 321.3 L252.9 320.5 L253.6 319.7 L254.3 319.3 L255 319.3 L255.7 318.3 L256.4 318 L256.4 325 L39.4 325 Z" fill="#1f7f75"/>
<path d="M39.4 365.6 L40.1 365.5 L40.8 365.5 L41.5 365.5 L42.2 365.3 L42.9 365.5 L43.6 365.5 L44.3 365.3 L45 365.3 L45.7 365.1 L46.4 365.1 L47.1 365.1 L47.8 365 L48.5 365 L49.2 365.1 L49.9 365.1 L50.6 364.9 L51.3 364.8 L52 364.8 L52.7 365 L53.4 365.2 L54.1 365.2 L54.8 365.1 L55.5 364.9 L56.2 365 L56.9 365.2 L57.6 365 L58.3 364.9 L59 364.9 L59.7 364.8 L60.4 364.5 L61.1 364.2 L61.8 364.1 L62.5 364.3 L63.2 364.1 L63.9 364 L64.6 363.8 L65.3 364 L66 364.2 L66.7 364.2 L67.4 364.2 L68.1 364.2 L68.8 364.5 L69.5 364.5 L70.2 364.5 L70.9 364.6 L71.6 365 L72.3 365 L73 365 L73.7 364.9 L74.4 364.6 L75.1 364.4 L75.8 364.3 L76.5 364.6 L77.2 364 L77.9 362.5 L78.6 361.3 L79.3 359.8 L80 356.7 L80.7 353.9 L81.4 351.5 L82.1 349.8 L82.8 349 L83.5 348.2 L84.2 347 L84.9 346.5 L85.6 347.3 L86.3 348.8 L87 349.2 L87.7 349.6 L88.4 352.9 L89.1 354.6 L89.8 354.9 L90.5 356.6 L91.2 358.1 L91.9 358.5 L92.6 358.7 L93.3 359.2 L94 359.3 L94.7 360.1 L95.4 360 L96.1 358.3 L96.8 357.7 L97.5 357.6 L98.2 357.7 L98.9 357.7 L99.6 357.4 L100.3 356.3 L101 356.3 L101.7 356.6 L102.4 356.1 L103.1 355.5 L103.8 355.2 L104.5 355.4 L105.2 355.5 L105.9 355.6 L106.6 356.1 L107.3 357.3 L108 357.3 L108.7 357.5 L109.4 357.8 L110.1 358.6 L110.8 358.2 L111.5 357.9 L112.2 358.4 L112.9 358.6 L113.6 359.6 L114.3 359.4 L115 359 L115.7 358.8 L116.4 359.2 L117.1 359.7 L117.8 359.3 L118.5 358.2 L119.2 357.2 L119.9 358 L120.6 358.2 L121.3 357.4 L122 357.5 L122.7 356.9 L123.4 356.9 L124.1 357.5 L124.8 357.7 L125.5 357.7 L126.2 358 L126.9 358.3 L127.6 358.7 L128.3 359.6 L129 359.8 L129.7 359.6 L130.4 359.6 L131.1 358.6 L131.8 358.7 L132.5 359.6 L133.2 359.4 L133.9 359.3 L134.6 358.7 L135.3 358.4 L136 358.9 L136.7 359.5 L137.4 358.8 L138.1 357.8 L138.8 358.4 L139.5 358.2 L140.2 358.3 L140.9 358.5 L141.6 357.1 L142.3 357.3 L143 358.3 L143.7 357.1 L144.4 356.8 L145.1 357.1 L145.8 356.9 L146.5 356.7 L147.2 355.2 L147.9 355.4 L148.6 356.3 L149.3 356.8 L150 357 L150.7 356.2 L151.4 355.2 L152.1 354.5 L152.8 354.3 L153.5 354 L154.2 353.6 L154.9 352.5 L155.6 352.3 L156.3 353 L157 353.7 L157.7 354.5 L158.4 353.7 L159.1 354.1 L159.8 354.2 L160.5 354.2 L161.2 353.7 L161.9 354.3 L162.6 355 L163.3 353.6 L164 353 L164.7 353.6 L165.4 353.7 L166.1 353.4 L166.8 352.6 L167.5 352.1 L168.2 352.4 L168.9 353.2 L169.6 352.9 L170.3 352.1 L171 353.1 L171.7 353.2 L172.4 353.3 L173.1 353.8 L173.8 353.5 L174.5 353.9 L175.2 353.6 L175.9 352.9 L176.6 352 L177.3 351.1 L178 351.6 L178.7 352.7 L179.4 353.2 L180.1 353.6 L180.8 353.3 L181.5 352.6 L182.2 353 L182.9 353 L183.6 352.7 L184.3 352.4 L185 352.9 L185.7 353 L186.4 352.9 L187.1 352.9 L187.8 353.2 L188.5 353 L189.2 352.6 L189.9 352 L190.6 351.1 L191.3 352 L192 351.9 L192.7 351.6 L193.4 352 L194.1 351.1 L194.8 351.7 L195.5 353 L196.2 352.6 L196.9 352.9 L197.6 353.2 L198.3 352.8 L199 353.3 L199.7 353.7 L200.4 354.8 L201.1 354.5 L201.8 353.9 L202.5 355.1 L203.2 354 L203.9 352.9 L204.6 354 L205.3 354.7 L206 354.9 L206.7 355.9 L207.4 355.9 L208.1 355.2 L208.8 354.5 L209.5 355.3 L210.2 356.4 L210.9 356.9 L211.6 357.8 L212.3 357.5 L213 358.5 L213.7 359.8 L214.4 359.9 L215.1 359.2 L215.8 358.2 L216.5 357.8 L217.2 357.2 L217.9 356.4 L218.6 356.2 L219.3 356.5 L220 356.2 L220.7 355.6 L221.4 355.7 L222.1 355.7 L222.8 354.5 L223.5 354.7 L224.2 356.5 L224.9 357.8 L225.6 358.2 L226.3 358.4 L227 358.9 L227.7 359.8 L228.4 360.5 L229.1 360.7 L229.8 361.1 L230.5 361.2 L231.2 361 L231.9 360.2 L232.6 360.3 L233.3 360.3 L234 360.1 L234.7 360.1 L235.4 360.1 L236.1 360 L236.8 359.1 L237.5 358.3 L238.2 357.7 L238.9 358.1 L239.6 358.5 L240.3 358.1 L241 357.4 L241.7 355.7 L242.4 356.7 L243.1 358.1 L243.8 358.1 L244.5 358.7 L245.2 359.4 L245.9 360.1 L246.6 360.2 L247.3 361 L248 362 L248.7 362.4 L249.4 363.4 L250.1 363.8 L250.8 363.8 L251.5 363.6 L252.2 363.9 L252.9 364.5 L253.6 364.5 L254.3 364.5 L255 364.5 L255.7 364.6 L256.4 364.8 L256.4 366.9 L39.4 366.9 Z" fill="#b3b3b3"/>
<line x1="39.2" y1="252" x2="39.2" y2="282.6" stroke="#777" stroke-width="1"/>
<text x="35.8" y="256" font-size="11.6" text-anchor="end" fill="#3a3a3a" stroke="#3a3a3a" stroke-width="0.3">243</text>
<text x="35.8" y="287.2" font-size="11.6" text-anchor="end" fill="#3a3a3a" stroke="#3a3a3a" stroke-width="0.3">0</text>
<text x="43" y="257.5" font-size="11.5" font-style="italic" fill="#4a4a4a" stroke="#4a4a4a" stroke-width="0.3">7SK ASO</text>
<line x1="39.2" y1="294.4" x2="39.2" y2="324.8" stroke="#777" stroke-width="1"/>
<text x="35.8" y="298.4" font-size="11.6" text-anchor="end" fill="#3a3a3a" stroke="#3a3a3a" stroke-width="0.3">243</text>
<text x="35.8" y="329.4" font-size="11.6" text-anchor="end" fill="#3a3a3a" stroke="#3a3a3a" stroke-width="0.3">0</text>
<text x="43" y="299.9" font-size="11.5" font-style="italic" fill="#4a4a4a" stroke="#4a4a4a" stroke-width="0.3">siPUS7</text>
<line x1="39.2" y1="336.3" x2="39.2" y2="366.9" stroke="#777" stroke-width="1"/>
<text x="35.8" y="340.3" font-size="11.6" text-anchor="end" fill="#3a3a3a" stroke="#3a3a3a" stroke-width="0.3">243</text>
<text x="35.8" y="371.5" font-size="11.6" text-anchor="end" fill="#3a3a3a" stroke="#3a3a3a" stroke-width="0.3">0</text>
<text x="43" y="341.8" font-size="11.5" font-style="italic" fill="#4a4a4a" stroke="#4a4a4a" stroke-width="0.3">siCtrl</text>
<g fill="#111" stroke="none">
<rect x="83.4" y="377.2" width="7" height="3.6"/>
<rect x="90.4" y="376" width="6.6" height="6"/>
<rect x="97" y="378.5" width="17" height="1"/>
<path d="M107.5 377.4 L110 379 L107.5 380.6 Z"/>
<rect x="113.8" y="376" width="30" height="6"/>
<rect x="143.8" y="377.2" width="29.1" height="3.6"/>
</g>
<path d="M83.9 377.2 V372.3 H99" fill="none" stroke="#111" stroke-width="0.9"/>
<path d="M98.3 370.6 L101.8 372.3 L98.3 374 Z" fill="#111"/>
<text x="133.5" y="394.7" font-size="11.7" text-anchor="middle" fill="#3a3a3a" stroke="#3a3a3a" stroke-width="0.3">EGR1</text>
</g>
<g id="panelE">
<text x="12" y="398.5" font-size="14.5" font-weight="bold" fill="#111">E</text>
<text x="39.4" y="411.2" font-size="11.9" fill="#3a3a3a" stroke="#3a3a3a" stroke-width="0.3">chr12:57,510,138-57,523,528</text>
<path d="M35.4 449.4 L36.1 448.1 L36.8 446.9 L37.5 445.6 L38.2 444.8 L38.9 444.7 L39.6 444.2 L40.3 443.1 L41 442.3 L41.7 441.3 L42.4 440.1 L43.1 439.8 L43.8 440.8 L44.5 441.4 L45.2 441.2 L45.9 440.3 L46.6 439.6 L47.3 438.9 L48 439 L48.7 439.8 L49.4 439.8 L50.1 440.1 L50.8 440.3 L51.5 439.4 L52.2 439.7 L52.9 439.4 L53.6 439 L54.3 439.9 L55 440.2 L55.7 439.6 L56.4 439.9 L57.1 440.1 L57.8 438.9 L58.5 438.5 L59.2 438.4 L59.9 437.4 L60.6 437 L61.3 435.9 L62 434.9 L62.7 435.1 L63.4 435.4 L64.1 434.9 L64.8 434.3 L65.5 434.5 L66.2 434.8 L66.9 434.4 L67.6 434.1 L68.3 433.4 L69 432.6 L69.7 432.7 L70.4 432.6 L71.1 432 L71.8 432.7 L72.5 433 L73.2 432 L73.9 432.5 L74.6 433.8 L75.3 433.8 L76 433.8 L76.7 433.7 L77.4 431.5 L78.1 429.6 L78.8 428 L79.5 427.8 L80.2 427 L80.9 426.6 L81.6 426.3 L82.3 425.1 L83 425.5 L83.7 425.6 L84.4 425 L85.1 423.7 L85.8 423.4 L86.5 423.3 L87.2 424.7 L87.9 425.6 L88.6 425.2 L89.3 425.4 L90 425.8 L90.7 425.9 L91.4 426.2 L92.1 426.4 L92.8 425.9 L93.5 425.4 L94.2 424.6 L94.9 424.9 L95.6 424.2 L96.3 422.3 L97 422.3 L97.7 422 L98.4 421.4 L99.1 422.1 L99.8 421.7 L100.5 421.4 L101.2 421.3 L101.9 421.2 L102.6 421.7 L103.3 420.5 L104 419.7 L104.7 420.6 L105.4 421.8 L106.1 423.7 L106.8 424.1 L107.5 425 L108.2 426.1 L108.9 426.5 L109.6 428.1 L110.3 431.1 L111 433.6 L111.7 434.3 L112.4 435.2 L113.1 436.8 L113.8 437.5 L114.5 438.3 L115.2 441.1 L115.9 441.2 L116.6 440.6 L117.3 441.3 L118 441.2 L118.7 441.2 L119.4 440.9 L120.1 439.9 L120.8 438.5 L121.5 437.2 L122.2 436.1 L122.9 435.5 L123.6 435.3 L124.3 434.9 L125 433.8 L125.7 433.1 L126.4 434.2 L127.1 436.3 L127.8 436 L128.5 435.2 L129.2 435.4 L129.9 437 L130.6 437.3 L131.3 437 L132 437.6 L132.7 438.5 L133.4 438.5 L134.1 438 L134.8 437.9 L135.5 438.7 L136.2 439.5 L136.9 438.7 L137.6 437.7 L138.3 437.4 L139 438.2 L139.7 438.3 L140.4 438.4 L141.1 438.9 L141.8 438.8 L142.5 439 L143.2 439.2 L143.9 438.6 L144.6 438.4 L145.3 439.9 L146 439.6 L146.7 438.5 L147.4 439.5 L148.1 439.7 L148.8 439 L149.5 438.5 L150.2 439.2 L150.9 440 L151.6 439.4 L152.3 438.1 L153 437 L153.7 435.6 L154.4 434.3 L155.1 434.1 L155.8 433.7 L156.5 433.9 L157.2 433.9 L157.9 432.8 L158.6 433 L159.3 433.6 L160 433 L160.7 433.5 L161.4 433.7 L162.1 434.2 L162.8 435.3 L163.5 435.6 L164.2 436.1 L164.9 436.4 L165.6 436.4 L166.3 435.5 L167 435 L167.7 434.8 L168.4 434.1 L169.1 434 L169.8 434.3 L170.5 433.7 L171.2 433.1 L171.9 433.7 L172.6 434.7 L173.3 434.8 L174 434.6 L174.7 434.6 L175.4 434.1 L176.1 433.1 L176.8 432.4 L177.5 432.6 L178.2 433.5 L178.9 434.6 L179.6 435.5 L180.3 436 L181 436.1 L181.7 436.7 L182.4 437.2 L183.1 437.4 L183.8 437.8 L184.5 436.1 L185.2 433.6 L185.9 432.2 L186.6 431.2 L187.3 430.2 L188 429.1 L188.7 429.5 L189.4 428.6 L190.1 426.9 L190.8 426.7 L191.5 425.8 L192.2 425.2 L192.9 425.9 L193.6 425.6 L194.3 425.2 L195 425.4 L195.7 425.5 L196.4 425.9 L197.1 426.2 L197.8 425.5 L198.5 425 L199.2 425 L199.9 424.5 L200.6 423.8 L201.3 422.3 L202 423.1 L202.7 425.5 L203.4 426.1 L204.1 424.7 L204.8 423 L205.5 422.4 L206.2 421.5 L206.9 421.6 L207.6 421.6 L208.3 421.6 L209 422.2 L209.7 420.8 L210.4 420.5 L211.1 421.2 L211.8 420.6 L212.5 420.8 L213.2 421.4 L213.9 423.5 L214.6 425.5 L215.3 428.1 L216 432.2 L216.7 435.8 L217.4 439 L218.1 442.6 L218.8 444.7 L219.5 445.9 L220.2 447.2 L220.9 448.2 L221.6 448.3 L222.3 448.1 L223 447.6 L223.7 447.5 L224.4 447.1 L225.1 446.5 L225.8 446.5 L226.5 446.3 L227.2 446.3 L227.9 446.2 L228.6 446.2 L229.3 446.4 L230 446.1 L230.7 445.5 L231.4 445.3 L232.1 445.4 L232.8 444.9 L233.5 444.6 L234.2 444.8 L234.9 444.6 L235.6 444.7 L236.3 444.8 L237 444 L237.7 443.5 L238.4 443.3 L239.1 443.3 L239.8 443.3 L240.5 443.7 L241.2 444.2 L241.9 444.5 L242.6 444.6 L243.3 444.2 L244 444.9 L244.7 445.5 L245.4 445.9 L246.1 446.4 L246.8 446.7 L247.5 447.4 L248.2 447.7 L248.9 448.1 L249.6 448.3 L250.3 448.5 L251 448.8 L251.7 449 L252.4 449.2 L252.4 449.9 L35.4 449.9 Z" fill="#edb27a"/>
<line x1="35.4" y1="449.9" x2="252.4" y2="449.9" stroke="#c9935f" stroke-width="1.2"/>
<path d="M35.4 488.8 L36.1 486.7 L36.8 485.2 L37.5 484 L38.2 483.4 L38.9 482.4 L39.6 481.7 L40.3 481.1 L41 481 L41.7 480.4 L42.4 479.8 L43.1 479.2 L43.8 479.2 L44.5 480 L45.2 479.8 L45.9 480.3 L46.6 480.1 L47.3 479.2 L48 479.8 L48.7 480.8 L49.4 481.8 L50.1 482.3 L50.8 482.6 L51.5 483.3 L52.2 483.5 L52.9 482.9 L53.6 482.7 L54.3 484 L55 483.6 L55.7 482.9 L56.4 484.3 L57.1 484.6 L57.8 483.9 L58.5 483.8 L59.2 484.4 L59.9 484.9 L60.6 484.4 L61.3 484.3 L62 484.7 L62.7 484.7 L63.4 485 L64.1 484.4 L64.8 483.2 L65.5 483.3 L66.2 484.4 L66.9 484.3 L67.6 483.5 L68.3 483.9 L69 483.2 L69.7 482.3 L70.4 482.2 L71.1 481.5 L71.8 481.5 L72.5 481.7 L73.2 480.8 L73.9 479.5 L74.6 478.7 L75.3 478.7 L76 478.9 L76.7 478.6 L77.4 478.1 L78.1 477.5 L78.8 478.2 L79.5 478 L80.2 477.3 L80.9 477.2 L81.6 476.3 L82.3 474.9 L83 475 L83.7 475.4 L84.4 475 L85.1 473.7 L85.8 472.2 L86.5 472.2 L87.2 473.2 L87.9 475.1 L88.6 476.3 L89.3 476.3 L90 476.3 L90.7 476.8 L91.4 476.8 L92.1 476.9 L92.8 477.2 L93.5 476.5 L94.2 476.7 L94.9 478.5 L95.6 478.9 L96.3 478.7 L97 478.8 L97.7 478.9 L98.4 479.9 L99.1 480.2 L99.8 479.5 L100.5 478.6 L101.2 479 L101.9 479.7 L102.6 479.4 L103.3 480.8 L104 482 L104.7 480.3 L105.4 479.8 L106.1 480.3 L106.8 479 L107.5 478.6 L108.2 477.9 L108.9 476.9 L109.6 476.8 L110.3 476.9 L111 478.6 L111.7 479.2 L112.4 479 L113.1 479.9 L113.8 481.2 L114.5 482.1 L115.2 483.1 L115.9 483.7 L116.6 483.4 L117.3 483.7 L118 484.4 L118.7 484.5 L119.4 484.8 L120.1 485.8 L120.8 485.7 L121.5 485.4 L122.2 486.1 L122.9 486.1 L123.6 485.7 L124.3 485.8 L125 486 L125.7 485.6 L126.4 484.6 L127.1 483.6 L127.8 483.6 L128.5 483.5 L129.2 481.9 L129.9 481.1 L130.6 481.3 L131.3 481.4 L132 481.4 L132.7 481 L133.4 481.1 L134.1 480.8 L134.8 481.2 L135.5 481.8 L136.2 482.2 L136.9 482.1 L137.6 481.9 L138.3 482.1 L139 481.6 L139.7 482.1 L140.4 482.1 L141.1 481.8 L141.8 481.2 L142.5 480.9 L143.2 480.4 L143.9 479.9 L144.6 480.2 L145.3 480.4 L146 480.4 L146.7 479.9 L147.4 479.9 L148.1 479.9 L148.8 479.5 L149.5 479.5 L150.2 478.9 L150.9 478.1 L151.6 477.8 L152.3 477.4 L153 477.1 L153.7 477.5 L154.4 477.5 L155.1 476.7 L155.8 475.6 L156.5 475.5 L157.2 475.8 L157.9 476 L158.6 475.6 L159.3 474.8 L160 475 L160.7 474.7 L161.4 474.4 L162.1 475.5 L162.8 476.3 L163.5 476 L164.2 475.6 L164.9 474.4 L165.6 473.9 L166.3 473.8 L167 473 L167.7 472.2 L168.4 471.5 L169.1 471.1 L169.8 470.6 L170.5 470.8 L171.2 470.2 L171.9 468.8 L172.6 468.9 L173.3 469.7 L174 470.4 L174.7 472 L175.4 473.2 L176.1 473.1 L176.8 473.3 L177.5 473.6 L178.2 473.2 L178.9 473.2 L179.6 473.8 L180.3 475.3 L181 475.3 L181.7 475.5 L182.4 476.9 L183.1 476.3 L183.8 475.3 L184.5 474.8 L185.2 474.4 L185.9 474.6 L186.6 474.2 L187.3 473.9 L188 473.9 L188.7 473.2 L189.4 472.3 L190.1 471.7 L190.8 471.2 L191.5 470.1 L192.2 469.6 L192.9 469.6 L193.6 468.5 L194.3 468.9 L195 468.5 L195.7 466.8 L196.4 467 L197.1 466.2 L197.8 465.4 L198.5 465.5 L199.2 465.4 L199.9 465.8 L200.6 466.3 L201.3 466.7 L202 466.6 L202.7 466.4 L203.4 466 L204.1 465 L204.8 465 L205.5 464.5 L206.2 463.3 L206.9 463.7 L207.6 463.9 L208.3 462.8 L209 462 L209.7 461.1 L210.4 459 L211.1 457.4 L211.8 457 L212.5 456.7 L213.2 457 L213.9 460.1 L214.6 463.1 L215.3 465.1 L216 468.1 L216.7 471 L217.4 474.1 L218.1 477.7 L218.8 480.6 L219.5 482.4 L220.2 483.7 L220.9 485.4 L221.6 486.4 L222.3 487.2 L223 487 L223.7 486.9 L224.4 487.2 L225.1 487.2 L225.8 487.5 L226.5 487.7 L227.2 487.6 L227.9 487.7 L228.6 487.7 L229.3 487.6 L230 488 L230.7 488.4 L231.4 487.8 L232.1 487.4 L232.8 487.4 L233.5 487.6 L234.2 487.5 L234.9 487.4 L235.6 487 L236.3 487 L237 487.7 L237.7 488 L238.4 488.2 L239.1 488.3 L239.8 488.7 L240.5 489.2 L241.2 489.1 L241.9 489.1 L242.6 489.6 L243.3 489.8 L244 490 L244.7 490.4 L245.4 490.3 L246.1 490.3 L246.8 490.4 L247.5 490.6 L248.2 490.7 L248.9 490.9 L249.6 490.9 L250.3 490.7 L251 490.6 L251.7 490.5 L252.4 490.3 L253.1 490.4 L253.8 490.2 L253.8 491.8 L35.4 491.8 Z" fill="#1f7f75"/>
<path d="M33.7 533.1 L34.4 532.8 L35.1 532.7 L35.8 532.5 L36.5 532.2 L37.2 532 L37.9 531.7 L38.6 531.5 L39.3 531.4 L40 531.6 L40.7 531.5 L41.4 531.1 L42.1 530.7 L42.8 530.3 L43.5 530.1 L44.2 530 L44.9 529.9 L45.6 529.5 L46.3 529.3 L47 528.9 L47.7 528.4 L48.4 528.4 L49.1 528.2 L49.8 527.6 L50.5 527.6 L51.2 527.5 L51.9 527.5 L52.6 527.8 L53.3 527.6 L54 527.3 L54.7 527.1 L55.4 527.1 L56.1 526.4 L56.8 526.1 L57.5 526.4 L58.2 526.1 L58.9 526.5 L59.6 526.9 L60.3 527.2 L61 527.8 L61.7 527.1 L62.4 526.9 L63.1 528.2 L63.8 528.5 L64.5 528.5 L65.2 528.4 L65.9 527.7 L66.6 527.6 L67.3 527.8 L68 527.8 L68.7 526.8 L69.4 525.8 L70.1 525.5 L70.8 524.4 L71.5 523.8 L72.2 524.8 L72.9 525.6 L73.6 524.5 L74.3 524 L75 523.7 L75.7 522.5 L76.4 521.7 L77.1 522.3 L77.8 523 L78.5 523.5 L79.2 523.7 L79.9 522.5 L80.6 521.2 L81.3 521.5 L82 521.8 L82.7 520.7 L83.4 519.6 L84.1 519.8 L84.8 520.8 L85.5 519.8 L86.2 519.1 L86.9 519.5 L87.6 520.3 L88.3 520.6 L89 521.4 L89.7 521.7 L90.4 521.2 L91.1 521.3 L91.8 520.7 L92.5 520.7 L93.2 522.4 L93.9 523 L94.6 522.2 L95.3 522 L96 521.3 L96.7 520.9 L97.4 521.8 L98.1 522 L98.8 521.1 L99.5 520.9 L100.2 521.8 L100.9 520.9 L101.6 520.3 L102.3 520.3 L103 519.6 L103.7 521 L104.4 522.3 L105.1 522.6 L105.8 522.9 L106.5 523.3 L107.2 524.5 L107.9 525.9 L108.6 526.1 L109.3 525.2 L110 525.9 L110.7 526.8 L111.4 526.8 L112.1 526.9 L112.8 527.5 L113.5 527.6 L114.2 527.2 L114.9 526.7 L115.6 526.5 L116.3 526.9 L117 527.1 L117.7 527.5 L118.4 527.4 L119.1 527.8 L119.8 527.8 L120.5 527.4 L121.2 527.8 L121.9 527.7 L122.6 527.9 L123.3 528.5 L124 528.3 L124.7 528.5 L125.4 528.5 L126.1 528 L126.8 527.6 L127.5 527 L128.2 526.9 L128.9 527.2 L129.6 527.2 L130.3 527.4 L131 526.8 L131.7 526.2 L132.4 526.3 L133.1 526.9 L133.8 527.2 L134.5 526.6 L135.2 526.3 L135.9 526.7 L136.6 526.8 L137.3 526.6 L138 526 L138.7 526.3 L139.4 527.2 L140.1 527.1 L140.8 527.5 L141.5 527.4 L142.2 527.2 L142.9 527.6 L143.6 527.8 L144.3 527.5 L145 527.3 L145.7 527.1 L146.4 527.3 L147.1 527.6 L147.8 527.3 L148.5 527.5 L149.2 526.9 L149.9 526 L150.6 526.9 L151.3 526.7 L152 525.4 L152.7 525.8 L153.4 526.4 L154.1 525.1 L154.8 524.9 L155.5 524.6 L156.2 523.4 L156.9 523.4 L157.6 524 L158.3 523.8 L159 524 L159.7 524.2 L160.4 524.6 L161.1 525.1 L161.8 525.5 L162.5 525.4 L163.2 524.8 L163.9 524.6 L164.6 525.1 L165.3 526.2 L166 526.5 L166.7 525.7 L167.4 525.6 L168.1 525.3 L168.8 525.2 L169.5 525.4 L170.2 525.2 L170.9 525.7 L171.6 525.5 L172.3 525.6 L173 525.5 L173.7 525.6 L174.4 526.5 L175.1 528.1 L175.8 528 L176.5 526.6 L177.2 525.9 L177.9 526.1 L178.6 525.8 L179.3 525.1 L180 525.7 L180.7 525.2 L181.4 525.2 L182.1 525.6 L182.8 524.3 L183.5 523.2 L184.2 522.6 L184.9 522.7 L185.6 524 L186.3 525.2 L187 525.7 L187.7 526 L188.4 525.8 L189.1 526 L189.8 525.8 L190.5 525.9 L191.2 526.9 L191.9 527.2 L192.6 526.2 L193.3 525.2 L194 525.5 L194.7 526 L195.4 524.3 L196.1 522.7 L196.8 522.7 L197.5 522.7 L198.2 521.6 L198.9 520.7 L199.6 520.3 L200.3 520.4 L201 520.1 L201.7 518.4 L202.4 517.5 L203.1 517.6 L203.8 517.6 L204.5 516.3 L205.2 515.7 L205.9 514.3 L206.6 512.1 L207.3 510.4 L208 508.3 L208.7 506.1 L209.4 503.8 L210.1 501.9 L210.8 501.1 L211.5 499.9 L212.2 498.2 L212.9 498 L213.6 500.5 L214.3 502.3 L215 506.5 L215.7 511.1 L216.4 514.7 L217.1 518.3 L217.8 521.8 L218.5 526.4 L219.2 528.4 L219.9 529.8 L220.6 531.1 L221.3 531.8 L222 531.9 L222.7 532.2 L223.4 532.4 L224.1 532.3 L224.8 532.3 L225.5 532.3 L226.2 532.3 L226.9 532.2 L227.6 532.1 L228.3 531.9 L229 531.8 L229.7 531.9 L230.4 532.1 L231.1 532 L231.8 532 L232.5 532.2 L233.2 532.2 L233.9 532.2 L234.6 532.3 L235.3 532.4 L236 532.5 L236.7 532.5 L237.4 532.5 L238.1 532.4 L238.8 532.5 L239.5 532.5 L240.2 532.4 L240.9 532.6 L241.6 532.6 L242.3 532.6 L243 532.7 L243.7 532.7 L244.4 532.7 L245.1 532.8 L245.8 532.9 L246.5 532.9 L247.2 532.8 L247.9 532.9 L248.6 533 L249.3 533.1 L250 533 L250.7 533 L251.4 533 L252.1 533.1 L252.8 533.2 L252.8 533.7 L33.7 533.7 Z" fill="#b3b3b3"/>
<line x1="33.7" y1="533.7" x2="252.8" y2="533.7" stroke="#9a9a9a" stroke-width="1.2"/>
<line x1="35.3" y1="417.4" x2="35.3" y2="449.9" stroke="#777" stroke-width="1"/>
<text x="31.5" y="421.6" font-size="11.6" text-anchor="end" fill="#3a3a3a" stroke="#3a3a3a" stroke-width="0.3">109</text>
<text x="31.5" y="453.5" font-size="11.6" text-anchor="end" fill="#3a3a3a" stroke="#3a3a3a" stroke-width="0.3">0</text>
<text x="37.5" y="424.7" font-size="12" font-style="italic" fill="#4a4a4a" stroke="#4a4a4a" stroke-width="0.3">7SK ASO</text>
<line x1="35" y1="460.5" x2="35" y2="491.8" stroke="#777" stroke-width="1"/>
<text x="31.5" y="464.7" font-size="11.6" text-anchor="end" fill="#3a3a3a" stroke="#3a3a3a" stroke-width="0.3">109</text>
<text x="31.5" y="495.4" font-size="11.6" text-anchor="end" fill="#3a3a3a" stroke="#3a3a3a" stroke-width="0.3">0</text>
<text x="37.2" y="467.8" font-size="12" font-style="italic" fill="#4a4a4a" stroke="#4a4a4a" stroke-width="0.3">siPUS7</text>
<line x1="33.8" y1="502.4" x2="33.8" y2="533.7" stroke="#777" stroke-width="1"/>
<text x="31.5" y="506.6" font-size="11.6" text-anchor="end" fill="#3a3a3a" stroke="#3a3a3a" stroke-width="0.3">109</text>
<text x="31.5" y="537.3" font-size="11.6" text-anchor="end" fill="#3a3a3a" stroke="#3a3a3a" stroke-width="0.3">0</text>
<text x="36" y="509.7" font-size="12" font-style="italic" fill="#4a4a4a" stroke="#4a4a4a" stroke-width="0.3">siCtrl</text>
<g fill="#111" stroke="none">
<rect x="102.7" y="545.5" width="110" height="1"/>
<rect x="102.7" y="544.3" width="6.2" height="3.4"/>
<rect x="108.9" y="543" width="12.6" height="6"/>
<rect x="122.4" y="543" width="5" height="6"/>
<rect x="127.4" y="544.2" width="8.6" height="3.6"/>
<circle cx="150.7" cy="546" r="1"/>
<rect x="175.2" y="544.2" width="2.8" height="3.6"/>
<circle cx="201.8" cy="546" r="1"/>
<rect x="211.4" y="544" width="3.2" height="4"/>
</g>
<path d="M214.3 544 V539.4 H198" fill="none" stroke="#111" stroke-width="0.9"/>
<path d="M198.8 537.7 L195.2 539.4 L198.8 541.1 Z" fill="#111"/>
<text x="162.6" y="559.2" font-size="11.7" text-anchor="middle" fill="#3a3a3a" stroke="#3a3a3a" stroke-width="0.3">DDIT3</text>
</g>
<g id="panelF">
<text x="12" y="567.9" font-size="14.5" font-weight="bold" fill="#111">F</text>
<text x="41" y="578.8" font-size="11.9" fill="#3a3a3a" stroke="#3a3a3a" stroke-width="0.3">chr10:3,770,001-3,793,706</text>
<path d="M37.4 614.2 L38.1 614.4 L38.8 613.4 L39.5 612.7 L40.2 612.3 L40.9 611.9 L41.6 612.3 L42.3 611.6 L43 611.6 L43.7 612 L44.4 612 L45.1 612.4 L45.8 612.6 L46.5 612.9 L47.2 613.2 L47.9 613.3 L48.6 612.8 L49.3 612 L50 611.8 L50.7 611.7 L51.4 609.3 L52.1 607 L52.8 608.9 L53.5 608.5 L54.2 608 L54.9 610.2 L55.6 611.4 L56.3 609.4 L57 608.7 L57.7 609.2 L58.4 608.1 L59.1 606.9 L59.8 606 L60.5 604.8 L61.2 603.9 L61.9 604.3 L62.6 604.3 L63.3 604.5 L64 604.3 L64.7 602 L65.4 602.1 L66.1 603.8 L66.8 604.4 L67.5 603.8 L68.2 602.4 L68.9 602.5 L69.6 601.9 L70.3 600.7 L71 599.7 L71.7 596.6 L72.4 595.6 L73.1 592.9 L73.8 589.8 L74.5 589.8 L75.2 588.3 L75.9 588.2 L76.6 589.9 L77.3 590.7 L78 593.6 L78.7 595.7 L79.4 596.2 L80.1 597.7 L80.8 598.8 L81.5 600.5 L82.2 602 L82.9 602.3 L83.6 602.3 L84.3 603.4 L85 603.2 L85.7 603.1 L86.4 604.4 L87.1 604.6 L87.8 605.3 L88.5 605.3 L89.2 604.5 L89.9 605.7 L90.6 606.4 L91.3 605.8 L92 605.5 L92.7 605.7 L93.4 606.5 L94.1 607.1 L94.8 608.4 L95.5 607.8 L96.2 606.4 L96.9 606.3 L97.6 603.9 L98.3 603 L99 605 L99.7 606.4 L100.4 606.3 L101.1 606.8 L101.8 608.2 L102.5 607.5 L103.2 607.8 L103.9 609.3 L104.6 609 L105.3 607.6 L106 608.4 L106.7 608.9 L107.4 607.5 L108.1 607.3 L108.8 606.9 L109.5 607.1 L110.2 607.6 L110.9 607.4 L111.6 607 L112.3 605.5 L113 604.8 L113.7 605.5 L114.4 605.2 L115.1 606.2 L115.8 606.1 L116.5 603.8 L117.2 604.5 L117.9 605.9 L118.6 606.4 L119.3 607 L120 608.4 L120.7 609.2 L121.4 609.5 L122.1 609 L122.8 608.9 L123.5 609.7 L124.2 609.9 L124.9 607.4 L125.6 606.3 L126.3 607.6 L127 607.9 L127.7 608.4 L128.4 608.9 L129.1 608.9 L129.8 608 L130.5 607.3 L131.2 608.1 L131.9 607.4 L132.6 606 L133.3 606.5 L134 605.8 L134.7 602.9 L135.4 602.2 L136.1 602.7 L136.8 603 L137.5 604.5 L138.2 605.4 L138.9 605.3 L139.6 606.1 L140.3 606.7 L141 606.4 L141.7 606.5 L142.4 606.7 L143.1 606.4 L143.8 606.1 L144.5 606.4 L145.2 606.2 L145.9 605.6 L146.6 607 L147.3 607.7 L148 607.2 L148.7 607.5 L149.4 607.7 L150.1 608.1 L150.8 608.3 L151.5 608.1 L152.2 608.8 L152.9 609.1 L153.6 609.4 L154.3 608.9 L155 608 L155.7 609.9 L156.4 610.6 L157.1 610 L157.8 610.5 L158.5 610.3 L159.2 610 L159.9 609.3 L160.6 608.9 L161.3 609.5 L162 609.9 L162.7 610.5 L163.4 609.6 L164.1 609.8 L164.8 609.8 L165.5 607.4 L166.2 606 L166.9 607.8 L167.6 608.8 L168.3 607.1 L169 606.3 L169.7 605.6 L170.4 606.5 L171.1 606.6 L171.8 606.5 L172.5 606.1 L173.2 604.7 L173.9 606.4 L174.6 608.6 L175.3 609 L176 610.7 L176.7 611.2 L177.4 611.5 L178.1 612.2 L178.8 611.9 L179.5 612.3 L180.2 612.3 L180.9 612.5 L181.6 613 L182.3 612.4 L183 612.1 L183.7 612 L184.4 611.2 L185.1 611 L185.8 610.7 L186.5 610.2 L187.2 609.5 L187.9 608.8 L188.6 609.3 L189.3 608.5 L190 607.6 L190.7 607 L191.4 606.8 L192.1 605.9 L192.8 604.8 L193.5 606 L194.2 606.5 L194.9 605.2 L195.6 605.6 L196.3 605.3 L197 603.1 L197.7 601.1 L198.4 598.3 L199.1 593.1 L199.8 587.8 L200.5 585.2 L201.2 584.6 L201.9 584.3 L202.6 587.1 L203.3 590.1 L204 592.5 L204.7 597 L205.4 602.1 L206.1 601.9 L206.8 601.8 L207.5 602.8 L208.2 603.3 L208.9 603 L209.6 602.5 L210.3 601.6 L211 601.6 L211.7 601.6 L212.4 599.5 L213.1 598.7 L213.8 598.9 L214.5 601.1 L215.2 602.7 L215.9 602.6 L216.6 604.3 L217.3 605.8 L218 607.1 L218.7 609.5 L219.4 610.6 L220.1 611.2 L220.8 612.6 L221.5 612.6 L222.2 613.4 L222.9 614.6 L223.6 615 L224.3 615.3 L225 615.8 L225.7 616.2 L226.4 616.3 L227.1 616.7 L227.8 617.1 L228.5 617 L229.2 617.2 L229.9 617.5 L230.6 617.5 L231.3 617.5 L232 617.5 L232.7 617.6 L233.4 617.4 L234.1 617.3 L234.8 617.2 L235.5 617 L236.2 617.1 L236.9 617 L237.6 616.5 L238.3 616.2 L239 616.7 L239.7 616.9 L240.4 617.1 L241.1 617.4 L241.8 617.5 L242.5 617.6 L243.2 617.7 L243.9 617.7 L244.6 617.6 L245.3 617.5 L246 617.5 L246.7 617.6 L247.4 617.7 L248.1 617.6 L248.8 617.8 L249.5 617.8 L250.2 617.5 L250.9 617.2 L251.6 617.3 L252.3 617.2 L253 617 L253.7 617 L254.4 616.5 L255.1 616 L255.8 615.8 L256.5 616 L257.2 616.9 L257.9 618 L257.9 618.6 L37.4 618.6 Z" fill="#edb27a"/>
<line x1="37.4" y1="618.6" x2="257.9" y2="618.6" stroke="#c9935f" stroke-width="1.2"/>
<path d="M37.4 656.2 L38.1 656 L38.8 655.5 L39.5 655.7 L40.2 655.2 L40.9 654.4 L41.6 654.9 L42.3 654.5 L43 654.2 L43.7 654.8 L44.4 654.1 L45.1 653.5 L45.8 653.2 L46.5 653.1 L47.2 653.3 L47.9 653 L48.6 653.2 L49.3 652.7 L50 652 L50.7 651.5 L51.4 649.4 L52.1 648.5 L52.8 649.1 L53.5 647.7 L54.2 647.8 L54.9 648.3 L55.6 647.4 L56.3 646.6 L57 646.3 L57.7 647 L58.4 646.6 L59.1 646.4 L59.8 645.4 L60.5 646.6 L61.2 647.7 L61.9 646.1 L62.6 646.6 L63.3 647.9 L64 648.4 L64.7 648 L65.4 647.4 L66.1 647 L66.8 647.8 L67.5 648.1 L68.2 647.3 L68.9 645.7 L69.6 644.3 L70.3 643.7 L71 642.6 L71.7 642.2 L72.4 639.5 L73.1 637 L73.8 636.7 L74.5 635.9 L75.2 635.6 L75.9 636.1 L76.6 636.7 L77.3 638.4 L78 640.6 L78.7 640.8 L79.4 641.2 L80.1 643.1 L80.8 644.2 L81.5 644.8 L82.2 646.3 L82.9 648.2 L83.6 649 L84.3 649.3 L85 650.6 L85.7 652.2 L86.4 651.4 L87.1 651 L87.8 652.3 L88.5 652.3 L89.2 652.2 L89.9 652.9 L90.6 652.7 L91.3 652.9 L92 652.7 L92.7 652.7 L93.4 652.6 L94.1 653.7 L94.8 655 L95.5 654.7 L96.2 654.3 L96.9 654.3 L97.6 654.7 L98.3 654.8 L99 654.7 L99.7 654.2 L100.4 654.1 L101.1 654.3 L101.8 653.8 L102.5 653.4 L103.2 653.8 L103.9 654.4 L104.6 653.6 L105.3 653.7 L106 654.6 L106.7 653.8 L107.4 653.3 L108.1 653.5 L108.8 654.1 L109.5 654.2 L110.2 653.6 L110.9 654 L111.6 653.9 L112.3 653.9 L113 655 L113.7 655.1 L114.4 655.1 L115.1 655.3 L115.8 655.3 L116.5 655.2 L117.2 654.7 L117.9 654.4 L118.6 654.4 L119.3 654.7 L120 655.1 L120.7 654.6 L121.4 653.8 L122.1 653.5 L122.8 653.8 L123.5 654.5 L124.2 654.8 L124.9 654.4 L125.6 653.6 L126.3 653.4 L127 653.4 L127.7 652.6 L128.4 652 L129.1 652.5 L129.8 652.1 L130.5 651.8 L131.2 652.2 L131.9 651 L132.6 650.6 L133.3 650.3 L134 649 L134.7 648.7 L135.4 648.4 L136.1 648.7 L136.8 649.5 L137.5 649.8 L138.2 650.5 L138.9 648.6 L139.6 648.5 L140.3 649.5 L141 649.7 L141.7 650.5 L142.4 650.7 L143.1 652 L143.8 651.3 L144.5 651 L145.2 651.9 L145.9 651.1 L146.6 651.7 L147.3 652.7 L148 652.3 L148.7 652.3 L149.4 654 L150.1 654.3 L150.8 652.7 L151.5 652.8 L152.2 653.6 L152.9 654 L153.6 654.3 L154.3 654.2 L155 654.5 L155.7 654.7 L156.4 654.3 L157.1 654.3 L157.8 654.7 L158.5 655 L159.2 654.8 L159.9 654 L160.6 653.3 L161.3 653.1 L162 653.5 L162.7 652.8 L163.4 651.8 L164.1 652.1 L164.8 651.1 L165.5 650.5 L166.2 650.9 L166.9 650.5 L167.6 650.5 L168.3 651.2 L169 651.4 L169.7 651 L170.4 650.9 L171.1 652.6 L171.8 652.4 L172.5 652 L173.2 653.2 L173.9 653.4 L174.6 653.5 L175.3 653.7 L176 654 L176.7 654.5 L177.4 654.1 L178.1 653.6 L178.8 653.6 L179.5 653.3 L180.2 653.2 L180.9 653 L181.6 653.4 L182.3 654.5 L183 654.9 L183.7 654.8 L184.4 653.6 L185.1 653 L185.8 652.4 L186.5 651 L187.2 651.6 L187.9 650.3 L188.6 648.7 L189.3 648.4 L190 646.8 L190.7 645.1 L191.4 644.3 L192.1 643.5 L192.8 643.2 L193.5 644.5 L194.2 643.3 L194.9 642.6 L195.6 643.5 L196.3 641.7 L197 639.8 L197.7 639.2 L198.4 638.7 L199.1 636.9 L199.8 636 L200.5 636.6 L201.2 637 L201.9 637 L202.6 639.5 L203.3 641.2 L204 639 L204.7 637.1 L205.4 638 L206.1 638.7 L206.8 639.1 L207.5 640.2 L208.2 640.9 L208.9 639.3 L209.6 637.2 L210.3 637.6 L211 639.3 L211.7 639.8 L212.4 638 L213.1 639 L213.8 642.2 L214.5 643.5 L215.2 644.6 L215.9 645.9 L216.6 647.5 L217.3 648 L218 648.4 L218.7 649.1 L219.4 649.3 L220.1 649.7 L220.8 650.9 L221.5 651.9 L222.2 652.4 L222.9 653.6 L223.6 654.5 L224.3 655.1 L225 655.1 L225.7 655.4 L226.4 655.9 L227.1 656 L227.8 656.4 L228.5 657 L229.2 657.6 L229.9 657.6 L230.6 657.5 L231.3 657.7 L232 657.9 L232.7 658.1 L233.4 658.1 L234.1 658 L234.8 658.1 L235.5 658.1 L236.2 658 L236.9 658 L237.6 658.1 L238.3 657.9 L239 657.5 L239.7 657.3 L240.4 657.2 L241.1 657.4 L241.8 657.3 L242.5 657.2 L243.2 657.2 L243.9 657.1 L244.6 657.1 L245.3 657 L246 657.1 L246.7 657.3 L247.4 657.4 L248.1 657.8 L248.8 658.2 L249.5 658.5 L250.2 658.5 L250.9 658.4 L251.6 658.3 L252.3 658.4 L253 658.6 L253.7 658.5 L254.4 658.6 L255.1 658.7 L255.8 658.6 L256.5 658.6 L257.2 658.8 L257.9 658.8 L257.9 659.3 L37.4 659.3 Z" fill="#1f7f75"/>
<path d="M37.4 698.8 L38.1 698.6 L38.8 697.5 L39.5 696.4 L40.2 696.8 L40.9 696.2 L41.6 695.7 L42.3 695.7 L43 696.8 L43.7 697.9 L44.4 697.6 L45.1 697.6 L45.8 697.6 L46.5 697.7 L47.2 698.3 L47.9 698.5 L48.6 698.7 L49.3 697.8 L50 696.2 L50.7 695.9 L51.4 695.4 L52.1 694.1 L52.8 694.6 L53.5 694.2 L54.2 695.6 L54.9 696.4 L55.6 696.3 L56.3 696 L57 694.7 L57.7 695.1 L58.4 695.8 L59.1 695.2 L59.8 694 L60.5 693.9 L61.2 693.3 L61.9 692.1 L62.6 692.1 L63.3 691.8 L64 692.4 L64.7 691.9 L65.4 691.4 L66.1 692 L66.8 690.5 L67.5 689.3 L68.2 689.9 L68.9 690.1 L69.6 690.4 L70.3 689.4 L71 689.6 L71.7 691 L72.4 690.3 L73.1 688.9 L73.8 689.2 L74.5 689.8 L75.2 690.3 L75.9 690.7 L76.6 690.9 L77.3 691.1 L78 692 L78.7 691.3 L79.4 690.3 L80.1 692.5 L80.8 692.6 L81.5 693 L82.2 693.4 L82.9 693.3 L83.6 693.7 L84.3 693.6 L85 694.4 L85.7 694.8 L86.4 694.8 L87.1 696 L87.8 696.4 L88.5 694.9 L89.2 695.1 L89.9 695.6 L90.6 695.6 L91.3 695.8 L92 694.8 L92.7 694.7 L93.4 695.9 L94.1 695.6 L94.8 695.4 L95.5 694.3 L96.2 693.7 L96.9 695.5 L97.6 694.7 L98.3 693.4 L99 694.2 L99.7 694.9 L100.4 695.8 L101.1 694.9 L101.8 694.5 L102.5 695.8 L103.2 695.6 L103.9 695.6 L104.6 697.1 L105.3 697.8 L106 697.6 L106.7 696.7 L107.4 696.6 L108.1 697.7 L108.8 697.7 L109.5 697.8 L110.2 698.7 L110.9 698.5 L111.6 697.1 L112.3 697 L113 697 L113.7 696.6 L114.4 696.7 L115.1 697.1 L115.8 697.3 L116.5 696.8 L117.2 696.8 L117.9 697.2 L118.6 696.9 L119.3 697 L120 697.2 L120.7 696.3 L121.4 696.1 L122.1 697.3 L122.8 697.9 L123.5 697.4 L124.2 697.3 L124.9 697.3 L125.6 696.5 L126.3 696.8 L127 697.2 L127.7 697.1 L128.4 696.9 L129.1 696.6 L129.8 696 L130.5 695.7 L131.2 695.9 L131.9 695.3 L132.6 695.1 L133.3 694.2 L134 693.3 L134.7 694.8 L135.4 695.9 L136.1 695.3 L136.8 694.6 L137.5 694.2 L138.2 694.6 L138.9 695.7 L139.6 695.2 L140.3 695.4 L141 696.4 L141.7 696.5 L142.4 696.2 L143.1 696.5 L143.8 696.1 L144.5 696 L145.2 696.2 L145.9 694.6 L146.6 694.7 L147.3 695.5 L148 694.4 L148.7 694.8 L149.4 694.6 L150.1 693.5 L150.8 694.6 L151.5 694.3 L152.2 695.3 L152.9 697.1 L153.6 697.3 L154.3 697.1 L155 697.3 L155.7 697.4 L156.4 697.1 L157.1 697.4 L157.8 697.5 L158.5 697.9 L159.2 697.5 L159.9 696.4 L160.6 696.4 L161.3 696.3 L162 696.3 L162.7 696.3 L163.4 695.8 L164.1 695.6 L164.8 696 L165.5 696.6 L166.2 697.1 L166.9 696.8 L167.6 696 L168.3 697 L169 698 L169.7 697.5 L170.4 697.4 L171.1 697.3 L171.8 697 L172.5 697.2 L173.2 697.5 L173.9 697.5 L174.6 697.3 L175.3 697.5 L176 698 L176.7 697.8 L177.4 697.5 L178.1 697 L178.8 696.8 L179.5 697.3 L180.2 696.8 L180.9 696.3 L181.6 696.7 L182.3 696.9 L183 696.9 L183.7 696.9 L184.4 696.9 L185.1 696.9 L185.8 695.9 L186.5 695.8 L187.2 695.9 L187.9 696 L188.6 695.7 L189.3 694.8 L190 694.7 L190.7 694.8 L191.4 694.1 L192.1 693.4 L192.8 692.5 L193.5 691.7 L194.2 691.4 L194.9 690.8 L195.6 690 L196.3 689.5 L197 688 L197.7 684.9 L198.4 679.8 L199.1 675.5 L199.8 673.5 L200.5 674.8 L201.2 675.2 L201.9 677.2 L202.6 681.5 L203.3 684.2 L204 685.5 L204.7 687.7 L205.4 689.5 L206.1 691 L206.8 691 L207.5 690.2 L208.2 689.3 L208.9 688.4 L209.6 688.5 L210.3 687 L211 687.9 L211.7 690.1 L212.4 691.5 L213.1 692.2 L213.8 692.4 L214.5 692.7 L215.2 693 L215.9 693.1 L216.6 693.8 L217.3 695.7 L218 696 L218.7 695.9 L219.4 695.8 L220.1 696.2 L220.8 696 L221.5 695.3 L222.2 695.3 L222.9 694.2 L223.6 694.4 L224.3 695.4 L225 695.6 L225.7 696.3 L226.4 696.8 L227.1 697.1 L227.8 697.6 L228.5 698 L229.2 698.3 L229.9 698.6 L230.6 698.7 L231.3 698.7 L232 698.8 L232.7 698.9 L233.4 699.1 L234.1 698.7 L234.8 698.5 L235.5 698.7 L236.2 698.7 L236.9 699.3 L237.6 699.4 L238.3 699.5 L239 700.1 L239.7 700.5 L240.4 700.5 L241.1 700.4 L241.8 700.7 L242.5 700.8 L243.2 700.5 L243.9 700.7 L244.6 700.9 L245.3 700.8 L246 700.9 L246.7 701 L247.4 701 L248.1 701 L248.8 700.9 L249.5 701 L250.2 701.2 L250.9 701.1 L251.6 701 L252.3 701.2 L253 701.2 L253.7 701.2 L254.4 701.2 L255.1 701.2 L255.8 701.1 L256.5 701.1 L257.2 701.3 L257.9 701.3 L257.9 702.2 L37.4 702.2 Z" fill="#b3b3b3"/>
<line x1="37.4" y1="702.2" x2="257.9" y2="702.2" stroke="#9a9a9a" stroke-width="1.2"/>
<line x1="37.3" y1="586" x2="37.3" y2="618.6" stroke="#777" stroke-width="1"/>
<text x="33.5" y="590" font-size="11.6" text-anchor="end" fill="#3a3a3a" stroke="#3a3a3a" stroke-width="0.3">145</text>
<text x="33.5" y="623" font-size="11.6" text-anchor="end" fill="#3a3a3a" stroke="#3a3a3a" stroke-width="0.3">0</text>
<text x="39.8" y="594" font-size="11.5" font-style="italic" fill="#4a4a4a" stroke="#4a4a4a" stroke-width="0.3">7SK ASO</text>
<line x1="37.3" y1="628" x2="37.3" y2="659.3" stroke="#777" stroke-width="1"/>
<text x="33.5" y="632" font-size="11.6" text-anchor="end" fill="#3a3a3a" stroke="#3a3a3a" stroke-width="0.3">145</text>
<text x="33.5" y="663.7" font-size="11.6" text-anchor="end" fill="#3a3a3a" stroke="#3a3a3a" stroke-width="0.3">0</text>
<text x="39.8" y="636" font-size="11.5" font-style="italic" fill="#4a4a4a" stroke="#4a4a4a" stroke-width="0.3">siPUS7</text>
<line x1="37.3" y1="670.9" x2="37.3" y2="702.2" stroke="#777" stroke-width="1"/>
<text x="33.5" y="674.9" font-size="11.6" text-anchor="end" fill="#3a3a3a" stroke="#3a3a3a" stroke-width="0.3">145</text>
<text x="33.5" y="706.6" font-size="11.6" text-anchor="end" fill="#3a3a3a" stroke="#3a3a3a" stroke-width="0.3">0</text>
<text x="39.8" y="678.9" font-size="11.5" font-style="italic" fill="#4a4a4a" stroke="#4a4a4a" stroke-width="0.3">siCtrl</text>
<g fill="#111" stroke="none">
<rect x="81.3" y="714" width="112" height="1"/>
<rect x="81.3" y="712.8" width="43.5" height="3.4"/>
<path d="M124.5 712.8 L126.8 711.5 V717.5 L124.5 716.2 Z"/>
<rect x="131.8" y="711.7" width="2.4" height="5.6"/>
<circle cx="143.8" cy="714.5" r="0.9"/>
<rect x="150.7" y="711.3" width="7.4" height="6.4"/>
<circle cx="169.2" cy="714.5" r="0.9"/>
<path d="M191.3 711.9 L195.3 714.5 L191.3 717.1 Z"/>
</g>
<path d="M195.1 714.5 V707.8 H184" fill="none" stroke="#111" stroke-width="0.9"/>
<path d="M184.8 706.1 L181.2 707.8 L184.8 709.5 Z" fill="#111"/>
<text x="149.5" y="726.8" font-size="11.7" text-anchor="middle" fill="#3a3a3a" stroke="#3a3a3a" stroke-width="0.3">KLF6</text>
</g>
<g id="panelG">
<text x="289.5" y="303.7" font-size="14.5" font-weight="bold" fill="#111">G</text>
<text x="439" y="286.5" font-size="11.8" text-anchor="middle" font-weight="bold" font-style="italic" fill="#222">Pol II-CHIP-qPCR</text>
<line x1="333.9" y1="305.8" x2="333.9" y2="446.8" stroke="#8a8a8a" stroke-width="1"/>
<line x1="333.9" y1="446.8" x2="537.1" y2="446.8" stroke="#8a8a8a" stroke-width="1"/>
<line x1="330.4" y1="446.8" x2="333.9" y2="446.8" stroke="#8a8a8a" stroke-width="1"/>
<text x="328.4" y="450.9" font-size="11.7" text-anchor="end" fill="#3a3a3a" stroke="#3a3a3a" stroke-width="0.3">0</text>
<line x1="330.4" y1="411.6" x2="333.9" y2="411.6" stroke="#8a8a8a" stroke-width="1"/>
<text x="328.4" y="415.7" font-size="11.7" text-anchor="end" fill="#3a3a3a" stroke="#3a3a3a" stroke-width="0.3">1</text>
<line x1="330.4" y1="376.3" x2="333.9" y2="376.3" stroke="#8a8a8a" stroke-width="1"/>
<text x="328.4" y="380.4" font-size="11.7" text-anchor="end" fill="#3a3a3a" stroke="#3a3a3a" stroke-width="0.3">2</text>
<line x1="330.4" y1="341.1" x2="333.9" y2="341.1" stroke="#8a8a8a" stroke-width="1"/>
<text x="328.4" y="345.2" font-size="11.7" text-anchor="end" fill="#3a3a3a" stroke="#3a3a3a" stroke-width="0.3">3</text>
<line x1="330.4" y1="305.8" x2="333.9" y2="305.8" stroke="#8a8a8a" stroke-width="1"/>
<text x="328.4" y="309.9" font-size="11.7" text-anchor="end" fill="#3a3a3a" stroke="#3a3a3a" stroke-width="0.3">4</text>
<text transform="translate(316.5 383) rotate(-90)" font-size="11.7" text-anchor="middle" fill="#3a3a3a" stroke="#3a3a3a" stroke-width="0.3">Genebody Enrichment</text>
<rect x="345.4" y="301.6" width="10.6" height="5.4" fill="#b9b9b9"/>
<text x="361.1" y="307.6" font-size="11.7" fill="#3a3a3a" stroke="#3a3a3a" stroke-width="0.3">siCtrl</text>
<rect x="392.6" y="301.6" width="12.4" height="5.4" fill="#1f7f75"/>
<text x="409.2" y="307.6" font-size="11.7" fill="#3a3a3a" stroke="#3a3a3a" stroke-width="0.3">siPUS7</text>
<rect x="454.3" y="301.6" width="10.6" height="5.4" fill="#f0b57c"/>
<text x="470.6" y="307.6" font-size="11.7" fill="#3a3a3a" stroke="#3a3a3a" stroke-width="0.3">7SK ASO</text>
<rect x="339.1" y="410.6" width="13.8" height="36.2" fill="#b9b9b9" stroke="#868686" stroke-width="0.8"/>
<line x1="346" y1="406.6" x2="346" y2="414.3" stroke="#2d2d2d" stroke-width="0.9"/>
<line x1="343.4" y1="406.6" x2="348.6" y2="406.6" stroke="#2d2d2d" stroke-width="0.9"/>
<line x1="343.4" y1="414.3" x2="348.6" y2="414.3" stroke="#2d2d2d" stroke-width="0.9"/>
<path d="M346 405.3 l1.8 3 h-3.6 Z" fill="#2d2d2d"/>
<path d="M346.3 409.3 l1.8 3 h-3.6 Z" fill="#2d2d2d"/>
<path d="M345.8 411.9 l1.8 3 h-3.6 Z" fill="#2d2d2d"/>
<rect x="359.1" y="380" width="13.2" height="66.8" fill="#1f7f75" stroke="#165c54" stroke-width="0.8"/>
<line x1="365.7" y1="375.1" x2="365.7" y2="382.9" stroke="#2d2d2d" stroke-width="0.9"/>
<line x1="363.1" y1="375.1" x2="368.3" y2="375.1" stroke="#2d2d2d" stroke-width="0.9"/>
<line x1="363.1" y1="382.9" x2="368.3" y2="382.9" stroke="#2d2d2d" stroke-width="0.9"/>
<path d="M365.7 373.8 l1.8 3 h-3.6 Z" fill="#2d2d2d"/>
<path d="M366 377.8 l1.8 3 h-3.6 Z" fill="#2d2d2d"/>
<path d="M365.5 380.5 l1.8 3 h-3.6 Z" fill="#2d2d2d"/>
<rect x="378.6" y="363.7" width="12.8" height="83.1" fill="#f0b57c" stroke="#c08850" stroke-width="0.8"/>
<line x1="385" y1="355.1" x2="385" y2="372.3" stroke="#2d2d2d" stroke-width="0.9"/>
<line x1="382.4" y1="355.1" x2="387.6" y2="355.1" stroke="#2d2d2d" stroke-width="0.9"/>
<line x1="382.4" y1="372.3" x2="387.6" y2="372.3" stroke="#2d2d2d" stroke-width="0.9"/>
<path d="M385 353.8 l1.6 1.8 l-1.6 1.8 l-1.6 -1.8 Z" fill="#2d2d2d"/>
<path d="M385.3 362.5 l1.6 1.8 l-1.6 1.8 l-1.6 -1.8 Z" fill="#2d2d2d"/>
<path d="M384.8 369.9 l1.6 1.8 l-1.6 1.8 l-1.6 -1.8 Z" fill="#2d2d2d"/>
<rect x="410" y="410.9" width="12.9" height="35.9" fill="#b9b9b9" stroke="#868686" stroke-width="0.8"/>
<line x1="416.4" y1="405.7" x2="416.4" y2="417.1" stroke="#2d2d2d" stroke-width="0.9"/>
<line x1="413.8" y1="405.7" x2="419.1" y2="405.7" stroke="#2d2d2d" stroke-width="0.9"/>
<line x1="413.8" y1="417.1" x2="419.1" y2="417.1" stroke="#2d2d2d" stroke-width="0.9"/>
<circle cx="416.4" cy="406.2" r="1.6" fill="none" stroke="#2d2d2d" stroke-width="0.7"/>
<circle cx="416.8" cy="412" r="1.6" fill="none" stroke="#2d2d2d" stroke-width="0.7"/>
<circle cx="416.2" cy="416.5" r="1.6" fill="none" stroke="#2d2d2d" stroke-width="0.7"/>
<rect x="429.1" y="382" width="12.9" height="64.8" fill="#1f7f75" stroke="#165c54" stroke-width="0.8"/>
<line x1="435.6" y1="373.4" x2="435.6" y2="390" stroke="#2d2d2d" stroke-width="0.9"/>
<line x1="432.9" y1="373.4" x2="438.2" y2="373.4" stroke="#2d2d2d" stroke-width="0.9"/>
<line x1="432.9" y1="390" x2="438.2" y2="390" stroke="#2d2d2d" stroke-width="0.9"/>
<path d="M435.6 372.1 l1.8 3 h-3.6 Z" fill="#2d2d2d"/>
<path d="M435.9 380.5 l1.8 3 h-3.6 Z" fill="#2d2d2d"/>
<path d="M435.4 387.6 l1.8 3 h-3.6 Z" fill="#2d2d2d"/>
<rect x="448" y="370.6" width="12.9" height="76.2" fill="#f0b57c" stroke="#c08850" stroke-width="0.8"/>
<line x1="454.4" y1="362.9" x2="454.4" y2="377.1" stroke="#2d2d2d" stroke-width="0.9"/>
<line x1="451.8" y1="362.9" x2="457.1" y2="362.9" stroke="#2d2d2d" stroke-width="0.9"/>
<line x1="451.8" y1="377.1" x2="457.1" y2="377.1" stroke="#2d2d2d" stroke-width="0.9"/>
<circle cx="454.4" cy="363.4" r="1.6" fill="none" stroke="#2d2d2d" stroke-width="0.7"/>
<circle cx="454.8" cy="370.6" r="1.6" fill="none" stroke="#2d2d2d" stroke-width="0.7"/>
<circle cx="454.2" cy="376.5" r="1.6" fill="none" stroke="#2d2d2d" stroke-width="0.7"/>
<rect x="480" y="411.4" width="12.9" height="35.4" fill="#b9b9b9" stroke="#868686" stroke-width="0.8"/>
<line x1="486.4" y1="408.6" x2="486.4" y2="414.3" stroke="#2d2d2d" stroke-width="0.9"/>
<line x1="483.8" y1="408.6" x2="489.1" y2="408.6" stroke="#2d2d2d" stroke-width="0.9"/>
<line x1="483.8" y1="414.3" x2="489.1" y2="414.3" stroke="#2d2d2d" stroke-width="0.9"/>
<circle cx="486.4" cy="409.1" r="1.6" fill="none" stroke="#2d2d2d" stroke-width="0.7"/>
<circle cx="486.8" cy="412.1" r="1.6" fill="none" stroke="#2d2d2d" stroke-width="0.7"/>
<circle cx="486.2" cy="413.7" r="1.6" fill="none" stroke="#2d2d2d" stroke-width="0.7"/>
<rect x="499.1" y="394.3" width="12.9" height="52.5" fill="#1f7f75" stroke="#165c54" stroke-width="0.8"/>
<line x1="505.6" y1="390" x2="505.6" y2="397.7" stroke="#2d2d2d" stroke-width="0.9"/>
<line x1="502.9" y1="390" x2="508.2" y2="390" stroke="#2d2d2d" stroke-width="0.9"/>
<line x1="502.9" y1="397.7" x2="508.2" y2="397.7" stroke="#2d2d2d" stroke-width="0.9"/>
<path d="M505.6 388.7 l1.8 3 h-3.6 Z" fill="#2d2d2d"/>
<path d="M505.9 392.7 l1.8 3 h-3.6 Z" fill="#2d2d2d"/>
<path d="M505.4 395.3 l1.8 3 h-3.6 Z" fill="#2d2d2d"/>
<rect x="518" y="384" width="13.2" height="62.8" fill="#f0b57c" stroke="#c08850" stroke-width="0.8"/>
<line x1="524.6" y1="377.3" x2="524.6" y2="391.2" stroke="#2d2d2d" stroke-width="0.9"/>
<line x1="522" y1="377.3" x2="527.2" y2="377.3" stroke="#2d2d2d" stroke-width="0.9"/>
<line x1="522" y1="391.2" x2="527.2" y2="391.2" stroke="#2d2d2d" stroke-width="0.9"/>
<circle cx="521.9" cy="380" r="1.6" fill="none" stroke="#2d2d2d" stroke-width="0.7"/>
<circle cx="527.3" cy="380" r="1.6" fill="none" stroke="#2d2d2d" stroke-width="0.7"/>
<circle cx="525.2" cy="377.8" r="1.6" fill="none" stroke="#2d2d2d" stroke-width="0.7"/>
<circle cx="524.6" cy="390.6" r="1.6" fill="none" stroke="#2d2d2d" stroke-width="0.7"/>
<text x="366.2" y="464.3" font-size="11.7" text-anchor="middle" fill="#3a3a3a" stroke="#3a3a3a" stroke-width="0.3">ERG1</text>
<text x="436.6" y="464.3" font-size="11.7" text-anchor="middle" fill="#3a3a3a" stroke="#3a3a3a" stroke-width="0.3">DDIT3</text>
<text x="506.3" y="464.3" font-size="11.7" text-anchor="middle" fill="#3a3a3a" stroke="#3a3a3a" stroke-width="0.3">KLF6</text>
<line x1="365.5" y1="446.8" x2="365.5" y2="449.8" stroke="#8a8a8a" stroke-width="1"/>
<line x1="435.6" y1="446.8" x2="435.6" y2="449.8" stroke="#8a8a8a" stroke-width="1"/>
<line x1="505.6" y1="446.8" x2="505.6" y2="449.8" stroke="#8a8a8a" stroke-width="1"/>
<path d="M346.6 394.3 V328.7 H384.3 V347.9" fill="none" stroke="#6a6a6a" stroke-width="0.9"/>
<text x="365.6" y="328.2" font-size="11.6" text-anchor="middle" font-weight="bold" fill="#4d4d4d">***</text>
<path d="M346.6 394.3 V341.6 H366.8 V367.3" fill="none" stroke="#6a6a6a" stroke-width="0.9"/>
<text x="356.6" y="342.1" font-size="11.6" text-anchor="middle" font-weight="bold" fill="#4d4d4d">***</text>
<path d="M415.9 396.2 V328.6 H454.3 V356.2" fill="none" stroke="#6a6a6a" stroke-width="0.9"/>
<text x="432.9" y="328.1" font-size="11.6" text-anchor="middle" font-weight="bold" fill="#4d4d4d">**</text>
<path d="M415.9 396.2 V341.4 H435.8 V362" fill="none" stroke="#6a6a6a" stroke-width="0.9"/>
<text x="422.9" y="342.3" font-size="11.6" text-anchor="middle" font-weight="bold" fill="#4d4d4d">**</text>
<path d="M485.4 395.5 V328.6 H524 V369.2" fill="none" stroke="#6a6a6a" stroke-width="0.9"/>
<text x="504.9" y="328.1" font-size="11.6" text-anchor="middle" font-weight="bold" fill="#4d4d4d">**</text>
<path d="M485.4 395.5 V341.3 H505.5 V368.6" fill="none" stroke="#6a6a6a" stroke-width="0.9"/>
<text x="495.7" y="342.4" font-size="11.6" text-anchor="middle" font-weight="bold" fill="#4d4d4d">**</text>
</g>
<g id="panelH">
<text x="288" y="497.7" font-size="14.5" font-weight="bold" fill="#111">H</text>
<text x="438.5" y="498.6" font-size="11.8" text-anchor="middle" font-weight="bold" font-style="italic" fill="#222">RT-qPCR</text>
<line x1="334.3" y1="525.2" x2="334.3" y2="593" stroke="#8a8a8a" stroke-width="1"/>
<line x1="334.3" y1="603" x2="334.3" y2="668" stroke="#8a8a8a" stroke-width="1"/>
<line x1="332" y1="595.2" x2="336.6" y2="590.8" stroke="#8a8a8a" stroke-width="1"/>
<line x1="332" y1="605.2" x2="336.6" y2="600.8" stroke="#8a8a8a" stroke-width="1"/>
<line x1="334.3" y1="668" x2="538.4" y2="668" stroke="#8a8a8a" stroke-width="1"/>
<line x1="328.8" y1="668" x2="334.3" y2="668" stroke="#8a8a8a" stroke-width="1"/>
<text x="326.3" y="672.1" font-size="11.7" text-anchor="end" fill="#3a3a3a" stroke="#3a3a3a" stroke-width="0.3">0</text>
<line x1="328.8" y1="646.5" x2="334.3" y2="646.5" stroke="#8a8a8a" stroke-width="1"/>
<text x="326.3" y="650.6" font-size="11.7" text-anchor="end" fill="#3a3a3a" stroke="#3a3a3a" stroke-width="0.3">1</text>
<line x1="328.8" y1="624.9" x2="334.3" y2="624.9" stroke="#8a8a8a" stroke-width="1"/>
<text x="326.3" y="629" font-size="11.7" text-anchor="end" fill="#3a3a3a" stroke="#3a3a3a" stroke-width="0.3">2</text>
<line x1="328.8" y1="603.4" x2="334.3" y2="603.4" stroke="#8a8a8a" stroke-width="1"/>
<text x="326.3" y="607.5" font-size="11.7" text-anchor="end" fill="#3a3a3a" stroke="#3a3a3a" stroke-width="0.3">3</text>
<line x1="328.8" y1="585.5" x2="334.3" y2="585.5" stroke="#8a8a8a" stroke-width="1"/>
<text x="326.3" y="589.6" font-size="11.7" text-anchor="end" fill="#3a3a3a" stroke="#3a3a3a" stroke-width="0.3">5</text>
<line x1="328.8" y1="565.4" x2="334.3" y2="565.4" stroke="#8a8a8a" stroke-width="1"/>
<text x="326.3" y="569.5" font-size="11.7" text-anchor="end" fill="#3a3a3a" stroke="#3a3a3a" stroke-width="0.3">10</text>
<line x1="328.8" y1="545.3" x2="334.3" y2="545.3" stroke="#8a8a8a" stroke-width="1"/>
<text x="326.3" y="549.4" font-size="11.7" text-anchor="end" fill="#3a3a3a" stroke="#3a3a3a" stroke-width="0.3">15</text>
<line x1="328.8" y1="525.2" x2="334.3" y2="525.2" stroke="#8a8a8a" stroke-width="1"/>
<text x="326.3" y="529.3" font-size="11.7" text-anchor="end" fill="#3a3a3a" stroke="#3a3a3a" stroke-width="0.3">20</text>
<text transform="translate(310.5 596.7) rotate(-90)" font-size="11.7" text-anchor="middle" fill="#3a3a3a" stroke="#3a3a3a" stroke-width="0.3">RNA expression level</text>
<rect x="340.3" y="646.1" width="12.6" height="21.9" fill="#b9b9b9" stroke="#868686" stroke-width="0.8"/>
<line x1="346.6" y1="641" x2="346.6" y2="651.2" stroke="#2d2d2d" stroke-width="0.9"/>
<line x1="344" y1="641" x2="349.2" y2="641" stroke="#2d2d2d" stroke-width="0.9"/>
<line x1="344" y1="651.2" x2="349.2" y2="651.2" stroke="#2d2d2d" stroke-width="0.9"/>
<path d="M346.6 639.7 l1.8 3 h-3.6 Z" fill="#2d2d2d"/>
<path d="M347.1 644.7 l1.8 3 h-3.6 Z" fill="#2d2d2d"/>
<path d="M346.2 648.9 l1.8 3 h-3.6 Z" fill="#2d2d2d"/>
<rect x="359.4" y="628.8" width="12.9" height="39.2" fill="#1f7f75" stroke="#165c54" stroke-width="0.8"/>
<line x1="365.9" y1="620.1" x2="365.9" y2="636.2" stroke="#2d2d2d" stroke-width="0.9"/>
<line x1="363.2" y1="620.1" x2="368.5" y2="620.1" stroke="#2d2d2d" stroke-width="0.9"/>
<line x1="363.2" y1="636.2" x2="368.5" y2="636.2" stroke="#2d2d2d" stroke-width="0.9"/>
<path d="M365.9 618.8 l1.8 3 h-3.6 Z" fill="#2d2d2d"/>
<path d="M366.4 626.8 l1.8 3 h-3.6 Z" fill="#2d2d2d"/>
<path d="M365.5 633.9 l1.8 3 h-3.6 Z" fill="#2d2d2d"/>
<rect x="378.9" y="582.4" width="12.9" height="85.6" fill="#f0b57c" stroke="#c08850" stroke-width="0.8"/>
<line x1="385.4" y1="577.3" x2="385.4" y2="586.3" stroke="#2d2d2d" stroke-width="0.9"/>
<line x1="382.8" y1="577.3" x2="388" y2="577.3" stroke="#2d2d2d" stroke-width="0.9"/>
<line x1="382.8" y1="586.3" x2="388" y2="586.3" stroke="#2d2d2d" stroke-width="0.9"/>
<circle cx="385.4" cy="577.8" r="1.6" fill="none" stroke="#2d2d2d" stroke-width="0.7"/>
<circle cx="385.9" cy="582.2" r="1.6" fill="none" stroke="#2d2d2d" stroke-width="0.7"/>
<circle cx="385" cy="585.8" r="1.6" fill="none" stroke="#2d2d2d" stroke-width="0.7"/>
<rect x="410.3" y="646.1" width="12.9" height="21.9" fill="#b9b9b9" stroke="#868686" stroke-width="0.8"/>
<line x1="416.8" y1="643.1" x2="416.8" y2="648.2" stroke="#2d2d2d" stroke-width="0.9"/>
<line x1="414.1" y1="643.1" x2="419.4" y2="643.1" stroke="#2d2d2d" stroke-width="0.9"/>
<line x1="414.1" y1="648.2" x2="419.4" y2="648.2" stroke="#2d2d2d" stroke-width="0.9"/>
<circle cx="416.8" cy="643.6" r="1.6" fill="none" stroke="#2d2d2d" stroke-width="0.7"/>
<circle cx="417.2" cy="646.1" r="1.6" fill="none" stroke="#2d2d2d" stroke-width="0.7"/>
<circle cx="416.4" cy="647.7" r="1.6" fill="none" stroke="#2d2d2d" stroke-width="0.7"/>
<rect x="429.2" y="622.5" width="12.8" height="45.5" fill="#1f7f75" stroke="#165c54" stroke-width="0.8"/>
<line x1="435.6" y1="620.7" x2="435.6" y2="623.7" stroke="#2d2d2d" stroke-width="0.9"/>
<line x1="433" y1="620.7" x2="438.2" y2="620.7" stroke="#2d2d2d" stroke-width="0.9"/>
<line x1="433" y1="623.7" x2="438.2" y2="623.7" stroke="#2d2d2d" stroke-width="0.9"/>
<circle cx="435.6" cy="621.2" r="1.6" fill="none" stroke="#2d2d2d" stroke-width="0.7"/>
<circle cx="436.1" cy="622.6" r="1.6" fill="none" stroke="#2d2d2d" stroke-width="0.7"/>
<circle cx="435.2" cy="623.2" r="1.6" fill="none" stroke="#2d2d2d" stroke-width="0.7"/>
<rect x="448.6" y="560.8" width="12.6" height="107.2" fill="#f0b57c" stroke="#c08850" stroke-width="0.8"/>
<line x1="454.9" y1="539.9" x2="454.9" y2="580.3" stroke="#2d2d2d" stroke-width="0.9"/>
<line x1="452.3" y1="539.9" x2="457.5" y2="539.9" stroke="#2d2d2d" stroke-width="0.9"/>
<line x1="452.3" y1="580.3" x2="457.5" y2="580.3" stroke="#2d2d2d" stroke-width="0.9"/>
<path d="M454.9 538.6 l1.8 3 h-3.6 Z" fill="#2d2d2d"/>
<path d="M455.4 558.7 l1.8 3 h-3.6 Z" fill="#2d2d2d"/>
<path d="M454.5 578 l1.8 3 h-3.6 Z" fill="#2d2d2d"/>
<rect x="480.4" y="646.4" width="12.5" height="21.6" fill="#b9b9b9" stroke="#868686" stroke-width="0.8"/>
<line x1="486.6" y1="644.8" x2="486.6" y2="647.6" stroke="#2d2d2d" stroke-width="0.9"/>
<line x1="484" y1="644.8" x2="489.2" y2="644.8" stroke="#2d2d2d" stroke-width="0.9"/>
<line x1="484" y1="647.6" x2="489.2" y2="647.6" stroke="#2d2d2d" stroke-width="0.9"/>
<circle cx="486.6" cy="645.3" r="1.6" fill="none" stroke="#2d2d2d" stroke-width="0.7"/>
<circle cx="487.1" cy="646.6" r="1.6" fill="none" stroke="#2d2d2d" stroke-width="0.7"/>
<circle cx="486.2" cy="647.1" r="1.6" fill="none" stroke="#2d2d2d" stroke-width="0.7"/>
<rect x="499.5" y="633.5" width="12.6" height="34.5" fill="#1f7f75" stroke="#165c54" stroke-width="0.8"/>
<line x1="505.8" y1="629.1" x2="505.8" y2="635.6" stroke="#2d2d2d" stroke-width="0.9"/>
<line x1="503.2" y1="629.1" x2="508.4" y2="629.1" stroke="#2d2d2d" stroke-width="0.9"/>
<line x1="503.2" y1="635.6" x2="508.4" y2="635.6" stroke="#2d2d2d" stroke-width="0.9"/>
<path d="M505.8 627.8 l1.8 3 h-3.6 Z" fill="#2d2d2d"/>
<path d="M506.3 631 l1.8 3 h-3.6 Z" fill="#2d2d2d"/>
<path d="M505.4 633.3 l1.8 3 h-3.6 Z" fill="#2d2d2d"/>
<rect x="518.4" y="624.3" width="12.8" height="43.7" fill="#f0b57c" stroke="#c08850" stroke-width="0.8"/>
<line x1="524.8" y1="617.1" x2="524.8" y2="630.3" stroke="#2d2d2d" stroke-width="0.9"/>
<line x1="522.2" y1="617.1" x2="527.4" y2="617.1" stroke="#2d2d2d" stroke-width="0.9"/>
<line x1="522.2" y1="630.3" x2="527.4" y2="630.3" stroke="#2d2d2d" stroke-width="0.9"/>
<path d="M524.8 615.8 l1.8 3 h-3.6 Z" fill="#2d2d2d"/>
<path d="M525.3 622.3 l1.8 3 h-3.6 Z" fill="#2d2d2d"/>
<path d="M524.4 628 l1.8 3 h-3.6 Z" fill="#2d2d2d"/>
<rect x="377" y="593.3" width="17" height="9.9" fill="#fff"/>
<rect x="446.5" y="593.1" width="17" height="10.0" fill="#fff"/>
<text x="364.6" y="685.4" font-size="11.7" text-anchor="middle" fill="#3a3a3a" stroke="#3a3a3a" stroke-width="0.3">ERG1</text>
<text x="434.8" y="685.4" font-size="11.7" text-anchor="middle" fill="#3a3a3a" stroke="#3a3a3a" stroke-width="0.3">DDIT3</text>
<text x="504.6" y="685.4" font-size="11.7" text-anchor="middle" fill="#3a3a3a" stroke="#3a3a3a" stroke-width="0.3">KLF6</text>
<line x1="365.7" y1="668" x2="365.7" y2="671" stroke="#8a8a8a" stroke-width="1"/>
<line x1="435.4" y1="668" x2="435.4" y2="671" stroke="#8a8a8a" stroke-width="1"/>
<line x1="505.8" y1="668" x2="505.8" y2="671" stroke="#8a8a8a" stroke-width="1"/>
<path d="M346.9 614.7 V548.1 H385.1 V566.5" fill="none" stroke="#6a6a6a" stroke-width="0.9"/>
<text x="364.9" y="547.2" font-size="11.6" text-anchor="middle" font-weight="bold" fill="#4d4d4d">**</text>
<path d="M346.9 614.7 V560.6 H367 V603.3" fill="none" stroke="#6a6a6a" stroke-width="0.9"/>
<text x="355.9" y="561.2" font-size="11.6" text-anchor="middle" font-weight="bold" fill="#4d4d4d">*</text>
<path d="M416.3 616.3 V517.2 H454.7 V531.8" fill="none" stroke="#6a6a6a" stroke-width="0.9"/>
<text x="432" y="517.6" font-size="11.6" text-anchor="middle" font-weight="bold" fill="#4d4d4d">*</text>
<path d="M416.3 616.3 V530.2 H436.1 V602.8" fill="none" stroke="#6a6a6a" stroke-width="0.9"/>
<text x="428.5" y="530.8" font-size="11.6" text-anchor="middle" font-weight="bold" fill="#4d4d4d">****</text>
<path d="M487.2 629.8 V562.6 H525.7 V580.8" fill="none" stroke="#6a6a6a" stroke-width="0.9"/>
<text x="504.4" y="563.3" font-size="11.6" text-anchor="middle" font-weight="bold" fill="#4d4d4d">**</text>
<path d="M487.2 629.8 V575.6 H506.7 V615.1" fill="none" stroke="#6a6a6a" stroke-width="0.9"/>
<text x="496" y="576.8" font-size="11.6" text-anchor="middle" font-weight="bold" fill="#4d4d4d">**</text>
</g>
<g id="panelI">
<text x="563.5" y="280.8" font-size="14.5" font-weight="bold" fill="#111">I</text>
<text x="565.5" y="300.2" font-size="12" font-weight="bold" font-style="italic" fill="#222">GO analysis: top1000 PRR-increased genes</text>
<text x="638.7" y="314.2" font-size="12" font-weight="bold" font-style="italic" fill="#222">PUS7 KD vs siCtrl</text>
<rect x="594.5" y="323.4" width="212" height="12.7" fill="#f0b27a"/>
<rect x="594.5" y="338.5" width="165.2" height="12.7" fill="#f0b27a"/>
<rect x="594.5" y="353.7" width="155.5" height="12.7" fill="#f0b27a"/>
<rect x="594.5" y="368.8" width="155.5" height="12.7" fill="#f0b27a"/>
<rect x="594.5" y="384" width="146.1" height="12.7" fill="#f0b27a"/>
<rect x="594.5" y="399.1" width="136.3" height="12.7" fill="#f0b27a"/>
<rect x="594.5" y="414.3" width="132.1" height="12.7" fill="#f0b27a"/>
<rect x="594.5" y="429.4" width="123.6" height="12.7" fill="#f0b27a"/>
<rect x="594.5" y="444.6" width="121.9" height="12.7" fill="#f0b27a"/>
<line x1="584.1" y1="320.7" x2="584.1" y2="459.9" stroke="#8a8a8a" stroke-width="1"/>
<line x1="584.1" y1="459.9" x2="815" y2="459.9" stroke="#8a8a8a" stroke-width="1"/>
<line x1="584.1" y1="330" x2="587.6" y2="330" stroke="#666" stroke-width="0.9"/>
<text x="597.7" y="333.9" font-size="11.97" fill="#2c2c2c" stroke="#2c2c2c" stroke-width="0.3">response to unfolded protein</text>
<line x1="584.1" y1="345.1" x2="587.6" y2="345.1" stroke="#666" stroke-width="0.9"/>
<text x="597.7" y="349.1" font-size="11.97" fill="#2c2c2c" stroke="#2c2c2c" stroke-width="0.3">endoplasmic reticulum to Golgi vesicle−mediated transport</text>
<line x1="584.1" y1="360.3" x2="587.6" y2="360.3" stroke="#666" stroke-width="0.9"/>
<text x="597.7" y="364.2" font-size="11.97" fill="#2c2c2c" stroke="#2c2c2c" stroke-width="0.3">mRNA processing</text>
<line x1="584.1" y1="375.4" x2="587.6" y2="375.4" stroke="#666" stroke-width="0.9"/>
<text x="597.7" y="379.4" font-size="11.97" fill="#2c2c2c" stroke="#2c2c2c" stroke-width="0.3">RNA splicing</text>
<line x1="584.1" y1="390.6" x2="587.6" y2="390.6" stroke="#666" stroke-width="0.9"/>
<text x="597.7" y="394.5" font-size="11.97" fill="#2c2c2c" stroke="#2c2c2c" stroke-width="0.3">DNA damage response</text>
<line x1="584.1" y1="405.8" x2="587.6" y2="405.8" stroke="#666" stroke-width="0.9"/>
<text x="597.7" y="409.7" font-size="11.97" fill="#2c2c2c" stroke="#2c2c2c" stroke-width="0.3">cellular respiration</text>
<line x1="584.1" y1="420.9" x2="587.6" y2="420.9" stroke="#666" stroke-width="0.9"/>
<text x="597.7" y="424.8" font-size="11.95" font-weight="bold" fill="#e5393e">apoptotic process</text>
<line x1="584.1" y1="436.1" x2="587.6" y2="436.1" stroke="#666" stroke-width="0.9"/>
<text x="597.7" y="440" font-size="11.97" fill="#2c2c2c" stroke="#2c2c2c" stroke-width="0.3">positive regulation of apoptotic process</text>
<line x1="584.1" y1="451.2" x2="587.6" y2="451.2" stroke="#666" stroke-width="0.9"/>
<text x="597.7" y="455.1" font-size="11.97" fill="#2c2c2c" stroke="#2c2c2c" stroke-width="0.3">proteasome−mediated ubiquitin−dependent protein catabolic process</text>
<line x1="594" y1="459.9" x2="594" y2="462.9" stroke="#8a8a8a" stroke-width="1"/>
<text x="594" y="473.6" font-size="11.4" text-anchor="middle" fill="#3a3a3a" stroke="#3a3a3a" stroke-width="0.3">0</text>
<line x1="658.6" y1="459.9" x2="658.6" y2="462.9" stroke="#8a8a8a" stroke-width="1"/>
<text x="658.6" y="473.6" font-size="11.4" text-anchor="middle" fill="#3a3a3a" stroke="#3a3a3a" stroke-width="0.3">2</text>
<line x1="723.4" y1="459.9" x2="723.4" y2="462.9" stroke="#8a8a8a" stroke-width="1"/>
<text x="723.4" y="473.6" font-size="11.4" text-anchor="middle" fill="#3a3a3a" stroke="#3a3a3a" stroke-width="0.3">4</text>
<line x1="788.2" y1="459.9" x2="788.2" y2="462.9" stroke="#8a8a8a" stroke-width="1"/>
<text x="788.2" y="473.6" font-size="11.4" text-anchor="middle" fill="#3a3a3a" stroke="#3a3a3a" stroke-width="0.3">6</text>
<text x="709.5" y="485.6" font-size="11.7" text-anchor="middle" fill="#3a3a3a" stroke="#3a3a3a" stroke-width="0.3">−log(p-value)</text>
</g>
<g id="panelJ">
<text x="562.2" y="482.2" font-size="14.5" font-weight="bold" fill="#111">J</text>
<text x="567" y="506.1" font-size="12" font-weight="bold" font-style="italic" fill="#222">GO analysis: top1000 PRR-increased genes</text>
<text x="639.3" y="520.5" font-size="12" font-weight="bold" font-style="italic" fill="#222">7SK ASO vs siCtrl</text>
<rect x="594.9" y="529" width="209.5" height="12.7" fill="#f0b27a"/>
<rect x="594.9" y="544.1" width="178.9" height="12.7" fill="#f0b27a"/>
<rect x="594.9" y="559.3" width="174.2" height="12.7" fill="#f0b27a"/>
<rect x="594.9" y="574.5" width="148.7" height="12.7" fill="#f0b27a"/>
<rect x="594.9" y="589.6" width="143.6" height="12.7" fill="#f0b27a"/>
<rect x="594.9" y="604.8" width="120.2" height="12.7" fill="#f0b27a"/>
<rect x="594.9" y="619.9" width="120.2" height="12.7" fill="#f0b27a"/>
<rect x="594.9" y="635" width="116.8" height="12.7" fill="#f0b27a"/>
<rect x="594.9" y="650.2" width="116.8" height="12.7" fill="#f0b27a"/>
<line x1="584.1" y1="527" x2="584.1" y2="664.9" stroke="#8a8a8a" stroke-width="1"/>
<line x1="584.1" y1="664.9" x2="815" y2="664.9" stroke="#8a8a8a" stroke-width="1"/>
<line x1="584.1" y1="535.6" x2="587.6" y2="535.6" stroke="#666" stroke-width="0.9"/>
<text x="599.2" y="538.7" font-size="11.97" fill="#2c2c2c" stroke="#2c2c2c" stroke-width="0.3">protein folding</text>
<line x1="584.1" y1="550.8" x2="587.6" y2="550.8" stroke="#666" stroke-width="0.9"/>
<text x="599.2" y="553.8" font-size="11.97" fill="#2c2c2c" stroke="#2c2c2c" stroke-width="0.3">mRNA splicing, via spliceosome</text>
<line x1="584.1" y1="565.9" x2="587.6" y2="565.9" stroke="#666" stroke-width="0.9"/>
<text x="599.2" y="569" font-size="11.97" fill="#2c2c2c" stroke="#2c2c2c" stroke-width="0.3">cellular response to glucose starvation</text>
<line x1="584.1" y1="581.1" x2="587.6" y2="581.1" stroke="#666" stroke-width="0.9"/>
<text x="599.2" y="584.1" font-size="11.97" fill="#2c2c2c" stroke="#2c2c2c" stroke-width="0.3">negative regulation of translation</text>
<line x1="584.1" y1="596.2" x2="587.6" y2="596.2" stroke="#666" stroke-width="0.9"/>
<text x="599.2" y="599.3" font-size="11.97" fill="#2c2c2c" stroke="#2c2c2c" stroke-width="0.3">response to unfolded protein</text>
<line x1="584.1" y1="611.4" x2="587.6" y2="611.4" stroke="#666" stroke-width="0.9"/>
<text x="599.2" y="614.4" font-size="11.95" font-weight="bold" fill="#e5393e">apoptotic process</text>
<line x1="584.1" y1="626.5" x2="587.6" y2="626.5" stroke="#666" stroke-width="0.9"/>
<text x="599.2" y="629.6" font-size="11.97" fill="#2c2c2c" stroke="#2c2c2c" stroke-width="0.3">endoplasmic reticulum to Golgi vesicle−mediated transport</text>
<line x1="584.1" y1="641.6" x2="587.6" y2="641.6" stroke="#666" stroke-width="0.9"/>
<text x="599.2" y="644.7" font-size="11.97" fill="#2c2c2c" stroke="#2c2c2c" stroke-width="0.3">positive regulation of transcription initiation by RNA polymerase II</text>
<line x1="584.1" y1="656.8" x2="587.6" y2="656.8" stroke="#666" stroke-width="0.9"/>
<text x="599.2" y="659.9" font-size="11.97" fill="#2c2c2c" stroke="#2c2c2c" stroke-width="0.3">protein monoubiquitination</text>
<line x1="594" y1="664.9" x2="594" y2="667.9" stroke="#8a8a8a" stroke-width="1"/>
<text x="594" y="678.9" font-size="11.4" text-anchor="middle" fill="#3a3a3a" stroke="#3a3a3a" stroke-width="0.3">0</text>
<line x1="662" y1="664.9" x2="662" y2="667.9" stroke="#8a8a8a" stroke-width="1"/>
<text x="662" y="678.9" font-size="11.4" text-anchor="middle" fill="#3a3a3a" stroke="#3a3a3a" stroke-width="0.3">2</text>
<line x1="730" y1="664.9" x2="730" y2="667.9" stroke="#8a8a8a" stroke-width="1"/>
<text x="730" y="678.9" font-size="11.4" text-anchor="middle" fill="#3a3a3a" stroke="#3a3a3a" stroke-width="0.3">4</text>
<line x1="798" y1="664.9" x2="798" y2="667.9" stroke="#8a8a8a" stroke-width="1"/>
<text x="798" y="678.9" font-size="11.4" text-anchor="middle" fill="#3a3a3a" stroke="#3a3a3a" stroke-width="0.3">6</text>
<text x="711" y="689.1" font-size="11.7" text-anchor="middle" fill="#3a3a3a" stroke="#3a3a3a" stroke-width="0.3">−log(p-value)</text>
</g>
<g id="watermark" opacity="0.62">
<g fill="#8e8e8e">
<ellipse cx="688.5" cy="693.5" rx="10.8" ry="9.2"/>
<path d="M682 700 L680.5 705.5 L687 702 Z"/>
</g>
<g fill="#8e8e8e" stroke="#ffffff" stroke-width="1.2">
<ellipse cx="704.5" cy="700.2" rx="10" ry="8.4"/>
</g>
<path d="M710 706.5 L712.3 710.3 L706.5 707.8 Z" fill="#8e8e8e"/>
<g fill="#ffffff">
<circle cx="684.6" cy="690.6" r="1.4"/><circle cx="692.2" cy="690.6" r="1.4"/>
<circle cx="701.2" cy="698.2" r="1.2"/><circle cx="707.8" cy="698.2" r="1.2"/>
</g>
<text x="725.6" y="705.3" font-size="25.4" font-weight="500" fill="#8e8e8e" letter-spacing="1.7" font-family="'Liberation Sans','Noto Sans CJK SC',sans-serif">公众号 <tspan font-size="34" dy="-0.8" dx="-2.5">·</tspan><tspan dy="0.8"> 新使生物</tspan></text>
</g>
</svg>
</body>
</html>
